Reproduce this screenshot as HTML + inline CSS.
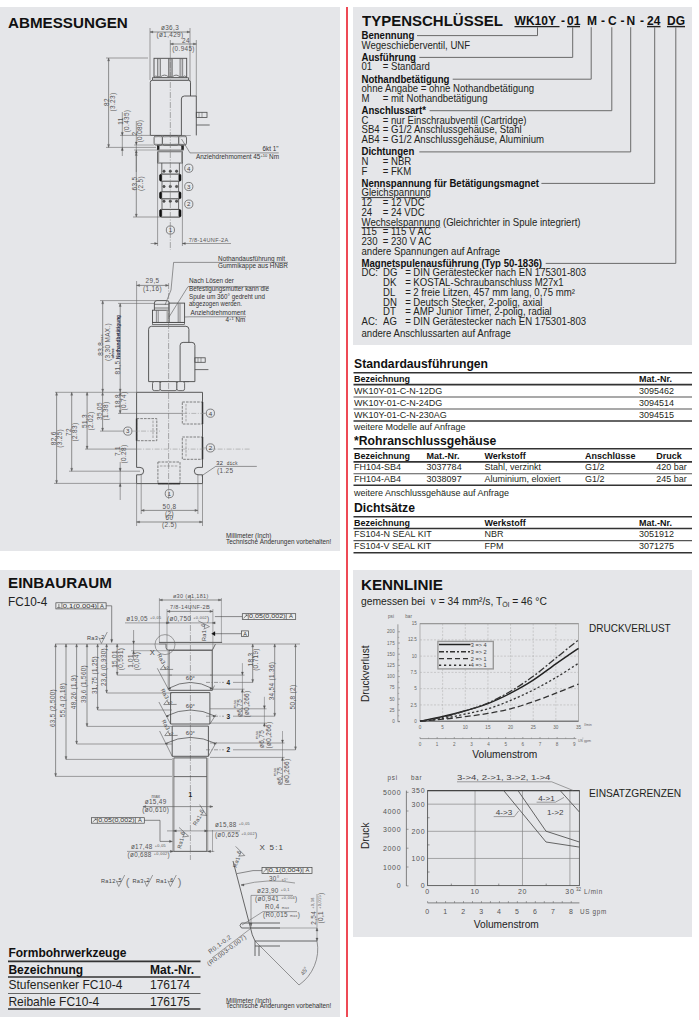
<!DOCTYPE html>
<html><head><meta charset="utf-8"><style>
html,body{margin:0;padding:0;}
body{width:700px;height:1020px;position:relative;overflow:hidden;background:#fff;font-family:"Liberation Sans",sans-serif;color:#231f20;}
.p{position:absolute;background:#e5e6e9;}
u{text-decoration-thickness:0.9px;text-underline-offset:1px;text-decoration-color:#444;}
.t{position:absolute;white-space:nowrap;line-height:1;}
svg{position:absolute;left:0;top:0;}
svg text{font-family:"Liberation Sans",sans-serif;}
svg text.m{font-family:"Liberation Mono",monospace;}
</style></head><body>
<div class="p" style="left:0px;top:7px;width:340px;height:544px"></div><div class="p" style="left:0px;top:570px;width:340px;height:447px"></div><div class="p" style="left:353px;top:7px;width:339px;height:338px"></div><div class="p" style="left:353px;top:570px;width:339px;height:367px"></div>
<div style="position:absolute;left:346px;top:7px;width:1.6px;height:1010px;background:#ee4a55"></div>
<div style="position:absolute;left:699px;top:0;width:1px;height:1020px;background:#f7d0d7"></div>
<svg width="700" height="1020" viewBox="0 0 700 1020">
<line x1="514.5" y1="26.6" x2="559.5" y2="26.6" stroke="#222" stroke-width="1.4" /><line x1="567" y1="26.6" x2="580" y2="26.6" stroke="#222" stroke-width="1.4" /><line x1="647" y1="26.6" x2="660.5" y2="26.6" stroke="#222" stroke-width="1.4" /><line x1="667" y1="26.6" x2="685" y2="26.6" stroke="#222" stroke-width="1.4" /><line x1="417" y1="35.6" x2="537.5" y2="35.6" stroke="#6a6a6a" stroke-width="1" /><line x1="537.5" y1="27.2" x2="537.5" y2="35.6" stroke="#6a6a6a" stroke-width="1" /><line x1="419.3" y1="57.4" x2="572.7" y2="57.4" stroke="#6a6a6a" stroke-width="1" /><line x1="572.7" y1="27.2" x2="572.7" y2="57.4" stroke="#6a6a6a" stroke-width="1" /><line x1="452.7" y1="79.2" x2="591.2" y2="79.2" stroke="#6a6a6a" stroke-width="1" /><line x1="591.2" y1="27.2" x2="591.2" y2="79.2" stroke="#6a6a6a" stroke-width="1" /><line x1="429.6" y1="110.70000000000002" x2="611.8" y2="110.70000000000002" stroke="#6a6a6a" stroke-width="1" /><line x1="611.8" y1="27.2" x2="611.8" y2="110.70000000000002" stroke="#6a6a6a" stroke-width="1" /><line x1="419.3" y1="151.9" x2="630.7" y2="151.9" stroke="#6a6a6a" stroke-width="1" /><line x1="630.7" y1="27.2" x2="630.7" y2="151.9" stroke="#6a6a6a" stroke-width="1" /><line x1="541.4" y1="183.39999999999998" x2="654.7" y2="183.39999999999998" stroke="#6a6a6a" stroke-width="1" /><line x1="654.7" y1="27.2" x2="654.7" y2="183.39999999999998" stroke="#6a6a6a" stroke-width="1" /><line x1="545.7" y1="263.39999999999986" x2="675.8" y2="263.39999999999986" stroke="#6a6a6a" stroke-width="1" /><line x1="675.8" y1="27.2" x2="675.8" y2="263.39999999999986" stroke="#6a6a6a" stroke-width="1" /><line x1="353.5" y1="372.7" x2="692" y2="372.7" stroke="#333" stroke-width="1.6" /><line x1="353.5" y1="384.6" x2="692" y2="384.6" stroke="#333" stroke-width="1.6" /><line x1="353.5" y1="397" x2="692" y2="397" stroke="#555" stroke-width="1.1" /><line x1="353.5" y1="409" x2="692" y2="409" stroke="#555" stroke-width="1.1" /><line x1="353.5" y1="421" x2="692" y2="421" stroke="#333" stroke-width="1.6" /><line x1="353.5" y1="448.8" x2="692" y2="448.8" stroke="#333" stroke-width="1.6" /><line x1="353.5" y1="461.9" x2="692" y2="461.9" stroke="#333" stroke-width="1.6" /><line x1="353.5" y1="473.7" x2="692" y2="473.7" stroke="#555" stroke-width="1.1" /><line x1="353.5" y1="485.3" x2="692" y2="485.3" stroke="#333" stroke-width="1.6" /><line x1="353.5" y1="516.7" x2="692" y2="516.7" stroke="#333" stroke-width="1.6" /><line x1="353.5" y1="528.5" x2="692" y2="528.5" stroke="#333" stroke-width="1.6" /><line x1="353.5" y1="540.6" x2="692" y2="540.6" stroke="#555" stroke-width="1.1" /><line x1="353.5" y1="552.7" x2="692" y2="552.7" stroke="#333" stroke-width="1.6" /><line x1="8" y1="961.4" x2="200.5" y2="961.4" stroke="#333" stroke-width="1.6" /><line x1="8" y1="977" x2="200.5" y2="977" stroke="#333" stroke-width="1.6" /><line x1="8" y1="993.5" x2="200.5" y2="993.5" stroke="#666" stroke-width="1" /><line x1="8" y1="1009" x2="200.5" y2="1009" stroke="#333" stroke-width="1.6" /><line x1="150" y1="28" x2="150" y2="80" stroke="#666" stroke-width="0.6" /><line x1="190" y1="28" x2="190" y2="96" stroke="#666" stroke-width="0.6" /><line x1="196.3" y1="40" x2="196.3" y2="96" stroke="#666" stroke-width="0.6" /><line x1="170.3" y1="40" x2="170.3" y2="52" stroke="#666" stroke-width="0.6" /><line x1="150" y1="32" x2="190" y2="32" stroke="#666" stroke-width="0.7" /><path d="M150,32 L153,30.95 L153,33.05 Z" stroke="#666" stroke-width="0.3" fill="#666" /><path d="M190,32 L187,30.95 L187,33.05 Z" stroke="#666" stroke-width="0.3" fill="#666" /><text x="170" y="30.3" font-size="6.4" text-anchor="middle" fill="#555" font-weight="400" letter-spacing="0.35">ø36,3</text><text x="170" y="37.3" font-size="6.4" text-anchor="middle" fill="#555" font-weight="400" letter-spacing="0.35">(ø1,429)</text><line x1="170.3" y1="44" x2="196.3" y2="44" stroke="#666" stroke-width="0.7" /><path d="M170.3,44 L173.3,42.95 L173.3,45.05 Z" stroke="#666" stroke-width="0.3" fill="#666" /><path d="M196.3,44 L193.3,42.95 L193.3,45.05 Z" stroke="#666" stroke-width="0.3" fill="#666" /><text x="186" y="42.5" font-size="6.4" text-anchor="middle" fill="#555" font-weight="400" letter-spacing="0.35">24</text><text x="183.5" y="50.8" font-size="6.4" text-anchor="middle" fill="#555" font-weight="400" letter-spacing="0.35">(0.945)</text><rect x="154" y="58.3" width="32.7" height="19.5" stroke="#4a4a4a" stroke-width="0.9" fill="none" /><rect x="157.6" y="58.8" width="2.8000000000000114" height="17.8" stroke="#555" stroke-width="0.6" fill="#c4c4c6" /><rect x="168.6" y="58.8" width="3.5999999999999943" height="17.8" stroke="#555" stroke-width="0.6" fill="#a9a9ab" /><rect x="180" y="58.8" width="2.8000000000000114" height="17.8" stroke="#555" stroke-width="0.6" fill="#c4c4c6" /><path d="M154,77.2 Q156,74.8 157.6,77 M160.4,77 Q164.5,73.2 168.6,77 M172.2,77 Q176.1,73.2 180,77 M182.8,77 Q184.8,74.8 186.7,77.2" stroke="#4a4a4a" stroke-width="0.7" fill="none" /><rect x="152.5" y="77.8" width="36" height="2.5" stroke="#4a4a4a" stroke-width="0.8" fill="#e5e6e9" /><path d="M150.3,135.4 L150.3,82.3 Q150.3,80.3 152.3,80.3 L188.5,80.3 Q190.5,80.3 190.5,82.3 L190.5,135.4 Z" stroke="#4a4a4a" stroke-width="0.9" fill="#e5e6e9" /><path d="M181.4,135.4 L181.4,99 Q181.4,96 184.4,96 L196.3,96 L196.3,135.4" stroke="#4a4a4a" stroke-width="0.9" fill="#e5e6e9" /><rect x="196.3" y="112.3" width="10.7" height="5.1" stroke="#4a4a4a" stroke-width="0.8" fill="none" /><line x1="199" y1="112.3" x2="199" y2="117.4" stroke="#4a4a4a" stroke-width="0.5" /><line x1="202" y1="112.3" x2="202" y2="117.4" stroke="#4a4a4a" stroke-width="0.5" /><line x1="196.3" y1="125" x2="209.7" y2="125" stroke="#4a4a4a" stroke-width="0.8" /><line x1="106" y1="58" x2="148" y2="58" stroke="#666" stroke-width="0.6" /><line x1="108.6" y1="58" x2="108.6" y2="147.4" stroke="#666" stroke-width="0.7" /><path d="M108.6,58 L107.55,61 L109.64999999999999,61 Z" stroke="#666" stroke-width="0.3" fill="#666" /><path d="M108.6,147.4 L107.55,144.4 L109.64999999999999,144.4 Z" stroke="#666" stroke-width="0.3" fill="#666" /><line x1="106" y1="147.4" x2="156" y2="147.4" stroke="#666" stroke-width="0.6" /><text x="108.804" y="102" font-size="6.4" text-anchor="middle" fill="#555" font-weight="400" transform="rotate(-90 108.804 102)" letter-spacing="0.35">82</text><text x="114.804" y="102" font-size="6.4" text-anchor="middle" fill="#555" font-weight="400" transform="rotate(-90 114.804 102)" letter-spacing="0.35">(3.23)</text><line x1="120" y1="135.4" x2="150" y2="135.4" stroke="#666" stroke-width="0.6" /><line x1="122.3" y1="112" x2="122.3" y2="156" stroke="#666" stroke-width="0.6" /><path d="M122.3,135.4 L121.25,132.4 L123.35,132.4 Z" stroke="#555" stroke-width="0.3" fill="#555" /><path d="M122.3,147.4 L121.25,150.4 L123.35,150.4 Z" stroke="#555" stroke-width="0.3" fill="#555" /><text x="122.504" y="121" font-size="6.4" text-anchor="middle" fill="#555" font-weight="400" transform="rotate(-90 122.504 121)" letter-spacing="0.35">11</text><text x="128.504" y="121" font-size="6.4" text-anchor="middle" fill="#555" font-weight="400" transform="rotate(-90 128.504 121)" letter-spacing="0.35">(0.435)</text><line x1="136.3" y1="121" x2="136.3" y2="172" stroke="#666" stroke-width="0.6" /><path d="M136.3,145 L135.25,142 L137.35000000000002,142 Z" stroke="#555" stroke-width="0.3" fill="#555" /><path d="M136.3,150 L135.25,153 L137.35000000000002,153 Z" stroke="#555" stroke-width="0.3" fill="#555" /><line x1="134" y1="145" x2="154" y2="145" stroke="#666" stroke-width="0.5" /><line x1="134" y1="150" x2="157" y2="150" stroke="#666" stroke-width="0.5" /><text x="136.504" y="133.5" font-size="6.4" text-anchor="middle" fill="#555" font-weight="400" transform="rotate(-90 136.504 133.5)" letter-spacing="0.35">2</text><text x="142.304" y="131" font-size="6.4" text-anchor="middle" fill="#555" font-weight="400" transform="rotate(-90 142.304 131)" letter-spacing="0.35">(0.080)</text><rect x="154.1" y="135.9" width="8.300000000000011" height="9.2" stroke="#4a4a4a" stroke-width="0.8" fill="#e5e6e9" rx="1.8"/><rect x="162.4" y="135.9" width="16.400000000000006" height="9.2" stroke="#4a4a4a" stroke-width="0.8" fill="#e5e6e9" rx="1.8"/><rect x="178.8" y="135.9" width="7.699999999999989" height="9.2" stroke="#4a4a4a" stroke-width="0.8" fill="#e5e6e9" rx="1.8"/><path d="M155,137 Q158.3,136.3 161.5,137 M163.3,137 Q170.5,136.3 177.8,137 M179.8,137 Q182.8,136.3 185.8,137" stroke="#4a4a4a" stroke-width="0.4" fill="none" /><path d="M155,144 Q158.3,144.8 161.5,144 M163.3,144 Q170.5,144.8 177.8,144 M179.8,144 Q182.8,144.8 185.8,144" stroke="#4a4a4a" stroke-width="0.4" fill="none" /><rect x="157.6" y="145.1" width="25.6" height="5" stroke="#4a4a4a" stroke-width="0.8" fill="none" /><rect x="157.3" y="146" width="1.8" height="3.5" stroke="#222" stroke-width="0.5" fill="#222" /><rect x="181.6" y="146" width="1.8" height="3.5" stroke="#222" stroke-width="0.5" fill="#222" /><rect x="157.6" y="151.8" width="25" height="11.2" stroke="#4a4a4a" stroke-width="0.8" fill="none" /><line x1="158.6" y1="152" x2="158.6" y2="163" stroke="#999" stroke-width="1.2" /><line x1="181.6" y1="152" x2="181.6" y2="163" stroke="#999" stroke-width="1.2" /><line x1="157.6" y1="163" x2="157.6" y2="246" stroke="#666" stroke-width="0.6" /><line x1="182.4" y1="163" x2="182.4" y2="246" stroke="#666" stroke-width="0.6" /><line x1="161.8" y1="163" x2="161.8" y2="174" stroke="#4a4a4a" stroke-width="0.8" /><line x1="179.4" y1="163" x2="179.4" y2="174" stroke="#4a4a4a" stroke-width="0.8" /><rect x="160" y="174.1" width="20.6" height="7.099999999999994" stroke="#444" stroke-width="1.0" fill="#e5e6e9" rx="1.5"/><rect x="159.6" y="174.4" width="2.2" height="6.499999999999995" stroke="#111" stroke-width="0.4" fill="#111" rx="1"/><rect x="178.8" y="174.4" width="2.2" height="6.499999999999995" stroke="#111" stroke-width="0.4" fill="#111" rx="1"/><rect x="160" y="191.8" width="20.6" height="7.0" stroke="#444" stroke-width="1.0" fill="#e5e6e9" rx="1.5"/><rect x="159.6" y="192.10000000000002" width="2.2" height="6.4" stroke="#111" stroke-width="0.4" fill="#111" rx="1"/><rect x="178.8" y="192.10000000000002" width="2.2" height="6.4" stroke="#111" stroke-width="0.4" fill="#111" rx="1"/><rect x="160" y="209.4" width="20.6" height="7.699999999999989" stroke="#444" stroke-width="1.0" fill="#e5e6e9" rx="1.5"/><rect x="159.6" y="209.70000000000002" width="2.2" height="7.099999999999989" stroke="#111" stroke-width="0.4" fill="#111" rx="1"/><rect x="178.8" y="209.70000000000002" width="2.2" height="7.099999999999989" stroke="#111" stroke-width="0.4" fill="#111" rx="1"/><line x1="162" y1="181.2" x2="162" y2="191.8" stroke="#4a4a4a" stroke-width="0.8" /><line x1="178.6" y1="181.2" x2="178.6" y2="191.8" stroke="#4a4a4a" stroke-width="0.8" /><line x1="162" y1="198.8" x2="162" y2="209.4" stroke="#4a4a4a" stroke-width="0.8" /><line x1="178.6" y1="198.8" x2="178.6" y2="209.4" stroke="#4a4a4a" stroke-width="0.8" /><circle cx="164" cy="171.2" r="1.2" stroke="#333" stroke-width="0.5" fill="#555"/><circle cx="170.3" cy="171.2" r="1.2" stroke="#333" stroke-width="0.5" fill="#555"/><circle cx="176.6" cy="171.2" r="1.2" stroke="#333" stroke-width="0.5" fill="#555"/><circle cx="164" cy="186.5" r="1.2" stroke="#333" stroke-width="0.5" fill="#555"/><circle cx="170.3" cy="186.5" r="1.2" stroke="#333" stroke-width="0.5" fill="#555"/><circle cx="176.6" cy="186.5" r="1.2" stroke="#333" stroke-width="0.5" fill="#555"/><circle cx="164" cy="201.2" r="1.2" stroke="#333" stroke-width="0.5" fill="#555"/><circle cx="170.3" cy="201.2" r="1.2" stroke="#333" stroke-width="0.5" fill="#555"/><circle cx="176.6" cy="201.2" r="1.2" stroke="#333" stroke-width="0.5" fill="#555"/><circle cx="188.8" cy="168.2" r="4.1" stroke="#555" stroke-width="0.7" fill="none"/><text x="188.8" y="170.5" font-size="6.2" text-anchor="middle" fill="#444" font-weight="400" >4</text><circle cx="188.8" cy="186.5" r="4.1" stroke="#555" stroke-width="0.7" fill="none"/><text x="188.8" y="188.8" font-size="6.2" text-anchor="middle" fill="#444" font-weight="400" >3</text><circle cx="188.8" cy="204.1" r="4.1" stroke="#555" stroke-width="0.7" fill="none"/><text x="188.8" y="206.4" font-size="6.2" text-anchor="middle" fill="#444" font-weight="400" >2</text><circle cx="170.4" cy="230" r="4.1" stroke="#555" stroke-width="0.7" fill="none"/><text x="170.4" y="232.3" font-size="6.2" text-anchor="middle" fill="#444" font-weight="400" >1</text><line x1="133" y1="217" x2="160" y2="217" stroke="#666" stroke-width="0.6" /><line x1="136.3" y1="152.5" x2="136.3" y2="217" stroke="#666" stroke-width="0.7" /><path d="M136.3,152.5 L135.25,155.5 L137.35000000000002,155.5 Z" stroke="#666" stroke-width="0.3" fill="#666" /><path d="M136.3,217 L135.25,214 L137.35000000000002,214 Z" stroke="#666" stroke-width="0.3" fill="#666" /><text x="136.804" y="183.5" font-size="6.4" text-anchor="middle" fill="#555" font-weight="400" transform="rotate(-90 136.804 183.5)" letter-spacing="0.35">63,5</text><text x="142.504" y="183.5" font-size="6.4" text-anchor="middle" fill="#555" font-weight="400" transform="rotate(-90 142.504 183.5)" letter-spacing="0.35">(2.5)</text><line x1="150.6" y1="243.5" x2="157.6" y2="243.5" stroke="#666" stroke-width="0.6" /><path d="M157.6,243.5 L154.6,242.45 L154.6,244.55 Z" stroke="#555" stroke-width="0.3" fill="#555" /><line x1="182.4" y1="243.5" x2="231" y2="243.5" stroke="#666" stroke-width="0.6" /><path d="M182.4,243.5 L185.4,242.45 L185.4,244.55 Z" stroke="#555" stroke-width="0.3" fill="#555" /><text x="188.7" y="241.6" font-size="6" text-anchor="start" fill="#555" font-weight="400" textLength="39.9" lengthAdjust="spacingAndGlyphs" letter-spacing="0.35">7/8-14UNF-2A</text><line x1="181.5" y1="139" x2="190" y2="152.9" stroke="#555" stroke-width="0.6" /><line x1="190" y1="152.9" x2="278.7" y2="152.9" stroke="#555" stroke-width="0.6" /><text x="278.5" y="151" font-size="6.6" text-anchor="end" fill="#333" font-weight="400" textLength="16" lengthAdjust="spacingAndGlyphs" >6kt 1"</text><line x1="170.3" y1="52" x2="170.3" y2="250" stroke="#777" stroke-width="0.6" stroke-dasharray="6,1.5,1,1.5"/><text x="196" y="158.6" font-size="6.4" text-anchor="start" fill="#333" font-weight="400" textLength="83" lengthAdjust="spacingAndGlyphs" >Anziehdrehmoment 45<tspan font-size="4" dy="-2">+10</tspan><tspan dy="2"> Nm</tspan></text><line x1="136.6" y1="281" x2="136.6" y2="392" stroke="#666" stroke-width="0.6" /><line x1="136.6" y1="285.4" x2="168.6" y2="285.4" stroke="#666" stroke-width="0.7" /><path d="M136.6,285.4 L139.6,284.34999999999997 L139.6,286.45 Z" stroke="#666" stroke-width="0.3" fill="#666" /><path d="M168.6,285.4 L165.6,284.34999999999997 L165.6,286.45 Z" stroke="#666" stroke-width="0.3" fill="#666" /><text x="152.5" y="283.2" font-size="6.4" text-anchor="middle" fill="#555" font-weight="400" letter-spacing="0.35">29,5</text><text x="152.5" y="290.6" font-size="6.4" text-anchor="middle" fill="#555" font-weight="400" letter-spacing="0.35">(1,16)</text><line x1="100" y1="300.6" x2="157" y2="300.6" stroke="#666" stroke-width="0.6" /><line x1="118" y1="303.4" x2="154.4" y2="303.4" stroke="#666" stroke-width="0.6" /><line x1="102.7" y1="300.8" x2="102.7" y2="392" stroke="#666" stroke-width="0.7" /><path d="M102.7,300.8 L101.65,303.8 L103.75,303.8 Z" stroke="#666" stroke-width="0.3" fill="#666" /><path d="M102.7,392 L101.65,389 L103.75,389 Z" stroke="#666" stroke-width="0.3" fill="#666" /><line x1="120.2" y1="303.5" x2="120.2" y2="392" stroke="#666" stroke-width="0.7" /><path d="M120.2,303.5 L119.15,306.5 L121.25,306.5 Z" stroke="#666" stroke-width="0.3" fill="#666" /><path d="M120.2,392 L119.15,389 L121.25,389 Z" stroke="#666" stroke-width="0.3" fill="#666" /><text x="102.904" y="345" font-size="6.4" text-anchor="middle" fill="#555" font-weight="400" transform="rotate(-90 102.904 345)" letter-spacing="0.35">83,8<tspan font-size="3.5">max</tspan></text><text x="109.904" y="342" font-size="6.4" text-anchor="middle" fill="#555" font-weight="400" transform="rotate(-90 109.904 342)" letter-spacing="0.35">(3,30 MAX.)</text><text x="114.4" y="353.5" font-size="3.8" text-anchor="middle" fill="#2a2a2a" font-weight="700" transform="rotate(-90 114.4 353.5)" textLength="10" lengthAdjust="spacingAndGlyphs" >ohne</text><text x="119.6" y="337" font-size="5" text-anchor="middle" fill="#1f2a44" font-weight="700" transform="rotate(-90 119.6 337)" textLength="44" lengthAdjust="spacingAndGlyphs" >Nothandbetätigung</text><text x="119.904" y="367.5" font-size="6.4" text-anchor="middle" fill="#555" font-weight="400" transform="rotate(-90 119.904 367.5)" letter-spacing="0.35">81,5</text><path d="M154.4,310.2 L154.4,303 Q154.4,300.6 157,300.6 L166.6,300.6 Q169.2,300.6 169.2,303 L169.2,310.2" stroke="#4a4a4a" stroke-width="0.9" fill="#e5e6e9" /><line x1="154.4" y1="304.3" x2="169.2" y2="304.3" stroke="#4a4a4a" stroke-width="0.7" /><line x1="154.4" y1="308" x2="169.2" y2="308" stroke="#4a4a4a" stroke-width="0.7" /><rect x="152.5" y="310.2" width="16.6" height="12.2" stroke="#4a4a4a" stroke-width="0.9" fill="#e5e6e9" /><rect x="169.1" y="303.1" width="15.5" height="19.3" stroke="#4a4a4a" stroke-width="0.9" fill="#e5e6e9" /><line x1="156.4" y1="310.5" x2="156.4" y2="322" stroke="#4a4a4a" stroke-width="0.6" /><line x1="158.2" y1="310.5" x2="158.2" y2="322" stroke="#4a4a4a" stroke-width="0.6" /><line x1="178.2" y1="303.5" x2="178.2" y2="322" stroke="#4a4a4a" stroke-width="0.6" /><line x1="180" y1="303.5" x2="180" y2="322" stroke="#4a4a4a" stroke-width="0.6" /><rect x="166.8" y="310.5" width="2" height="11.5" stroke="#999" stroke-width="0.3" fill="#aaa" /><rect x="152.5" y="322.4" width="32.1" height="2.2" stroke="#4a4a4a" stroke-width="0.7" fill="none" /><path d="M148.6,381.6 L148.6,329.3 Q148.6,326.3 151.6,326.3 L185.9,326.3 Q188.9,326.3 188.9,329.3 L188.9,381.6 Z" stroke="#4a4a4a" stroke-width="0.9" fill="#e5e6e9" /><path d="M180.1,381.6 L180.1,345.4 Q180.1,342.4 183.1,342.4 L191.9,342.4 Q194.9,342.4 194.9,345.4 L194.9,381.6 Z" stroke="#4a4a4a" stroke-width="0.9" fill="#e5e6e9" /><rect x="194.9" y="357.8" width="10.3" height="4.5" stroke="#4a4a4a" stroke-width="0.8" fill="none" /><line x1="198" y1="357.8" x2="198" y2="362.3" stroke="#4a4a4a" stroke-width="0.5" /><line x1="201" y1="357.8" x2="201" y2="362.3" stroke="#4a4a4a" stroke-width="0.5" /><line x1="194.9" y1="369.6" x2="208.4" y2="369.6" stroke="#4a4a4a" stroke-width="0.8" /><rect x="152.5" y="381.6" width="7.699999999999989" height="9" stroke="#4a4a4a" stroke-width="0.8" fill="#e5e6e9" rx="1.8"/><rect x="160.2" y="381.6" width="16.700000000000017" height="9" stroke="#4a4a4a" stroke-width="0.8" fill="#e5e6e9" rx="1.8"/><rect x="176.9" y="381.6" width="7.699999999999989" height="9" stroke="#4a4a4a" stroke-width="0.8" fill="#e5e6e9" rx="1.8"/><line x1="55" y1="392.3" x2="136.6" y2="392.3" stroke="#666" stroke-width="0.6" /><path d="M136.6,392.3 L202.5,392.3 L202.5,467.4 L198,467.4 A3.7,3.7 0 0 0 198,474.8 L202.5,474.8 L202.5,483.6 L136.6,483.6 L136.6,474.8 L140,474.8 A3.7,3.7 0 0 0 140,467.4 L136.6,467.4 Z" stroke="#4a4a4a" stroke-width="0.9" fill="none" /><rect x="182.3" y="402" width="20.2" height="22" stroke="#666" stroke-width="0.8" fill="none" stroke-dasharray="2.6,1.1"/><line x1="186" y1="404" x2="186" y2="422" stroke="#777" stroke-width="0.6" stroke-dasharray="2.6,1.1"/><rect x="182.3" y="437" width="20.2" height="22.3" stroke="#666" stroke-width="0.8" fill="none" stroke-dasharray="2.6,1.1"/><line x1="186" y1="439" x2="186" y2="457" stroke="#777" stroke-width="0.6" stroke-dasharray="2.6,1.1"/><rect x="136.6" y="418.6" width="20.2" height="22.1" stroke="#666" stroke-width="0.8" fill="none" stroke-dasharray="2.6,1.1"/><line x1="153" y1="420.6" x2="153" y2="438.7" stroke="#777" stroke-width="0.6" stroke-dasharray="2.6,1.1"/><rect x="157.9" y="462" width="22.1" height="21.6" stroke="#666" stroke-width="0.8" fill="none" stroke-dasharray="2.6,1.1"/><line x1="159.9" y1="466" x2="178" y2="466" stroke="#777" stroke-width="0.6" stroke-dasharray="2.6,1.1"/><line x1="202.5" y1="402" x2="202.5" y2="424" stroke="#333" stroke-width="1.5" /><line x1="202.5" y1="437" x2="202.5" y2="459.3" stroke="#333" stroke-width="1.5" /><line x1="136.6" y1="418.6" x2="136.6" y2="440.7" stroke="#333" stroke-width="1.5" /><line x1="157.9" y1="483.6" x2="180" y2="483.6" stroke="#333" stroke-width="1.5" /><line x1="56.6" y1="392.3" x2="56.6" y2="483.4" stroke="#666" stroke-width="0.7" /><path d="M56.6,392.3 L55.550000000000004,395.3 L57.65,395.3 Z" stroke="#666" stroke-width="0.3" fill="#666" /><path d="M56.6,483.4 L55.550000000000004,480.4 L57.65,480.4 Z" stroke="#666" stroke-width="0.3" fill="#666" /><line x1="54" y1="483.4" x2="136.6" y2="483.4" stroke="#666" stroke-width="0.6" /><line x1="71.7" y1="392.3" x2="71.7" y2="471.2" stroke="#666" stroke-width="0.7" /><path d="M71.7,392.3 L70.65,395.3 L72.75,395.3 Z" stroke="#666" stroke-width="0.3" fill="#666" /><path d="M71.7,471.2 L70.65,468.2 L72.75,468.2 Z" stroke="#666" stroke-width="0.3" fill="#666" /><line x1="69" y1="471.2" x2="140" y2="471.2" stroke="#666" stroke-width="0.6" /><line x1="87.1" y1="392.3" x2="87.1" y2="449.1" stroke="#666" stroke-width="0.7" /><path d="M87.1,392.3 L86.05,395.3 L88.14999999999999,395.3 Z" stroke="#666" stroke-width="0.3" fill="#666" /><path d="M87.1,449.1 L86.05,446.1 L88.14999999999999,446.1 Z" stroke="#666" stroke-width="0.3" fill="#666" /><line x1="85" y1="449.1" x2="136.6" y2="449.1" stroke="#666" stroke-width="0.6" /><line x1="136.6" y1="449.1" x2="250" y2="449.1" stroke="#888" stroke-width="0.5" stroke-dasharray="5,1.5,1,1.5"/><line x1="102.6" y1="392.3" x2="102.6" y2="431.1" stroke="#666" stroke-width="0.7" /><path d="M102.6,392.3 L101.55,395.3 L103.64999999999999,395.3 Z" stroke="#666" stroke-width="0.3" fill="#666" /><path d="M102.6,431.1 L101.55,428.1 L103.64999999999999,428.1 Z" stroke="#666" stroke-width="0.3" fill="#666" /><line x1="100" y1="431.1" x2="123.5" y2="431.1" stroke="#666" stroke-width="0.6" /><line x1="132" y1="431.1" x2="160" y2="431.1" stroke="#888" stroke-width="0.5" stroke-dasharray="5,1.5,1,1.5"/><line x1="120.2" y1="392.3" x2="120.2" y2="413.4" stroke="#666" stroke-width="0.7" /><path d="M120.2,392.3 L119.15,395.3 L121.25,395.3 Z" stroke="#666" stroke-width="0.3" fill="#666" /><path d="M120.2,413.4 L119.15,410.4 L121.25,410.4 Z" stroke="#666" stroke-width="0.3" fill="#666" /><line x1="118" y1="413.4" x2="182.3" y2="413.4" stroke="#666" stroke-width="0.6" /><line x1="182.3" y1="413.4" x2="206" y2="413.4" stroke="#888" stroke-width="0.5" stroke-dasharray="5,1.5,1,1.5"/><line x1="120.2" y1="462" x2="120.2" y2="500" stroke="#666" stroke-width="0.6" /><path d="M120.2,471.2 L119.15,468.2 L121.25,468.2 Z" stroke="#555" stroke-width="0.3" fill="#555" /><path d="M120.2,483.4 L119.15,486.4 L121.25,486.4 Z" stroke="#555" stroke-width="0.3" fill="#555" /><text x="56.104" y="438.3" font-size="6.4" text-anchor="middle" fill="#555" font-weight="400" transform="rotate(-90 56.104 438.3)" letter-spacing="0.35">82,6</text><text x="62.104" y="438.3" font-size="6.4" text-anchor="middle" fill="#555" font-weight="400" transform="rotate(-90 62.104 438.3)" letter-spacing="0.35">(3.25)</text><text x="71.104" y="432" font-size="6.4" text-anchor="middle" fill="#555" font-weight="400" transform="rotate(-90 71.104 432)" letter-spacing="0.35">72</text><text x="77.104" y="432" font-size="6.4" text-anchor="middle" fill="#555" font-weight="400" transform="rotate(-90 77.104 432)" letter-spacing="0.35">(2.83)</text><text x="86.504" y="421" font-size="6.4" text-anchor="middle" fill="#555" font-weight="400" transform="rotate(-90 86.504 421)" letter-spacing="0.35">51,3</text><text x="92.504" y="421" font-size="6.4" text-anchor="middle" fill="#555" font-weight="400" transform="rotate(-90 92.504 421)" letter-spacing="0.35">(2.02)</text><text x="102.104" y="411" font-size="6.4" text-anchor="middle" fill="#555" font-weight="400" transform="rotate(-90 102.104 411)" letter-spacing="0.35">35,05</text><text x="108.104" y="411" font-size="6.4" text-anchor="middle" fill="#555" font-weight="400" transform="rotate(-90 108.104 411)" letter-spacing="0.35">(1.38)</text><text x="119.70400000000001" y="401" font-size="6.4" text-anchor="middle" fill="#555" font-weight="400" transform="rotate(-90 119.70400000000001 401)" letter-spacing="0.35">18,8</text><text x="125.70400000000001" y="401" font-size="6.4" text-anchor="middle" fill="#555" font-weight="400" transform="rotate(-90 125.70400000000001 401)" letter-spacing="0.35">(0.74)</text><text x="119.70400000000001" y="451" font-size="6.4" text-anchor="middle" fill="#555" font-weight="400" transform="rotate(-90 119.70400000000001 451)" letter-spacing="0.35">7,1</text><text x="125.70400000000001" y="454" font-size="6.4" text-anchor="middle" fill="#555" font-weight="400" transform="rotate(-90 125.70400000000001 454)" letter-spacing="0.35">(0.28)</text><circle cx="210.4" cy="413.2" r="4.1" stroke="#555" stroke-width="0.7" fill="none"/><text x="210.4" y="415.5" font-size="6.2" text-anchor="middle" fill="#444" font-weight="400" >4</text><circle cx="127.8" cy="431.1" r="4.1" stroke="#555" stroke-width="0.7" fill="none"/><text x="127.8" y="433.40000000000003" font-size="6.2" text-anchor="middle" fill="#444" font-weight="400" >3</text><circle cx="210.4" cy="447.9" r="4.1" stroke="#555" stroke-width="0.7" fill="none"/><text x="210.4" y="450.2" font-size="6.2" text-anchor="middle" fill="#444" font-weight="400" >2</text><circle cx="169.3" cy="493.6" r="4.1" stroke="#555" stroke-width="0.7" fill="none"/><text x="169.3" y="495.90000000000003" font-size="6.2" text-anchor="middle" fill="#444" font-weight="400" >1</text><line x1="202.5" y1="413.3" x2="206" y2="413.3" stroke="#888" stroke-width="0.5" /><line x1="202.5" y1="447.9" x2="206" y2="447.9" stroke="#888" stroke-width="0.5" /><line x1="136.6" y1="483.6" x2="136.6" y2="526" stroke="#666" stroke-width="0.6" /><line x1="202.5" y1="483.6" x2="202.5" y2="526" stroke="#666" stroke-width="0.6" /><line x1="141.2" y1="474" x2="141.2" y2="514" stroke="#666" stroke-width="0.6" /><line x1="197.9" y1="474" x2="197.9" y2="514" stroke="#666" stroke-width="0.6" /><line x1="141.2" y1="510.4" x2="197.9" y2="510.4" stroke="#666" stroke-width="0.7" /><path d="M141.2,510.4 L144.2,509.34999999999997 L144.2,511.45 Z" stroke="#666" stroke-width="0.3" fill="#666" /><path d="M197.9,510.4 L194.9,509.34999999999997 L194.9,511.45 Z" stroke="#666" stroke-width="0.3" fill="#666" /><text x="169.5" y="508.6" font-size="6.4" text-anchor="middle" fill="#555" font-weight="400" letter-spacing="0.35">50,8</text><text x="169.5" y="515.6" font-size="6.4" text-anchor="middle" fill="#555" font-weight="400" letter-spacing="0.35">(2)</text><line x1="136.6" y1="522" x2="202.5" y2="522" stroke="#666" stroke-width="0.7" /><path d="M136.6,522 L139.6,520.95 L139.6,523.05 Z" stroke="#666" stroke-width="0.3" fill="#666" /><path d="M202.5,522 L199.5,520.95 L199.5,523.05 Z" stroke="#666" stroke-width="0.3" fill="#666" /><text x="169.5" y="520.3" font-size="6.4" text-anchor="middle" fill="#555" font-weight="400" letter-spacing="0.35">60</text><text x="169.5" y="527.4" font-size="6.4" text-anchor="middle" fill="#555" font-weight="400" letter-spacing="0.35">(2.5)</text><line x1="201.4" y1="476" x2="215.7" y2="466.4" stroke="#555" stroke-width="0.6" /><line x1="215.7" y1="466.4" x2="256.8" y2="466.4" stroke="#555" stroke-width="0.6" /><text x="216" y="465" font-size="6" text-anchor="start" fill="#444" font-weight="400" class="m" >32 <tspan font-size="4.6">dick</tspan></text><text x="217" y="472.5" font-size="6.4" text-anchor="start" fill="#555" font-weight="400" letter-spacing="0.35">(1.25</text><line x1="173.6" y1="262.4" x2="288" y2="262.4" stroke="#555" stroke-width="0.6" /><path d="M173.6,262.4 L171,290 L165,305" stroke="#555" stroke-width="0.6" fill="none" /><text x="218" y="261" font-size="6.3" text-anchor="start" fill="#333" font-weight="400" textLength="67" lengthAdjust="spacingAndGlyphs" >Nothandausführung mit</text><text x="218" y="268.4" font-size="6.3" text-anchor="start" fill="#333" font-weight="400" textLength="70" lengthAdjust="spacingAndGlyphs" >Gummikappe aus HNBR</text><line x1="188" y1="286.6" x2="269" y2="286.6" stroke="#555" stroke-width="0.6" /><line x1="188" y1="286.6" x2="169" y2="317" stroke="#555" stroke-width="0.6" /><text x="189" y="283" font-size="6.3" text-anchor="start" fill="#333" font-weight="400" textLength="45" lengthAdjust="spacingAndGlyphs" >Nach Lösen der</text><text x="189" y="291" font-size="6.3" text-anchor="start" fill="#333" font-weight="400" textLength="80" lengthAdjust="spacingAndGlyphs" >Befestigungsmutter kann die</text><text x="189" y="299" font-size="6.3" text-anchor="start" fill="#333" font-weight="400" textLength="76" lengthAdjust="spacingAndGlyphs" >Spule um 360° gedreht und</text><text x="189" y="306" font-size="6.3" text-anchor="start" fill="#333" font-weight="400" textLength="53" lengthAdjust="spacingAndGlyphs" >abgezogen werden.</text><text x="190.5" y="315" font-size="6.3" text-anchor="start" fill="#333" font-weight="400" textLength="55" lengthAdjust="spacingAndGlyphs" >Anziehdrehmoment</text><line x1="190" y1="316.8" x2="246" y2="316.8" stroke="#555" stroke-width="0.6" /><line x1="185" y1="317" x2="190" y2="316.8" stroke="#555" stroke-width="0.6" /><text x="225.6" y="322.2" font-size="6.3" text-anchor="start" fill="#333" font-weight="400" >4<tspan font-size="4" dy="-2">+1</tspan><tspan dy="2"> Nm</tspan></text><line x1="168.6" y1="283" x2="168.6" y2="500" stroke="#777" stroke-width="0.6" stroke-dasharray="6,1.5,1,1.5"/><text x="226" y="537.9" font-size="7" text-anchor="start" fill="#333" font-weight="400" textLength="45.4" lengthAdjust="spacingAndGlyphs" >Millimeter (Inch)</text><text x="226" y="543.5" font-size="7" text-anchor="start" fill="#333" font-weight="400" textLength="105.4" lengthAdjust="spacingAndGlyphs" >Technische Änderungen vorbehalten!</text><line x1="190.4" y1="595" x2="190.4" y2="860" stroke="#777" stroke-width="0.6" stroke-dasharray="6,1.5,1,1.5"/><line x1="55" y1="644" x2="166" y2="644" stroke="#666" stroke-width="0.6" /><line x1="159" y1="642.4" x2="222.1" y2="642.4" stroke="#4a4a4a" stroke-width="0.9" /><line x1="222.1" y1="644" x2="300" y2="644" stroke="#666" stroke-width="0.6" /><line x1="159" y1="644" x2="222.1" y2="644" stroke="#666" stroke-width="0.5" /><path d="M166,644.2 L166,647.5 Q166,650.2 169,650.2 L212.3,650.2 L215.4,644.2" stroke="#4a4a4a" stroke-width="0.8" fill="none" /><line x1="169" y1="650.2" x2="212.3" y2="650.2" stroke="#4a4a4a" stroke-width="0.7" /><line x1="169" y1="650.2" x2="169" y2="690.3" stroke="#4a4a4a" stroke-width="0.9" /><line x1="212.3" y1="650.2" x2="212.3" y2="690.3" stroke="#4a4a4a" stroke-width="0.9" /><line x1="170.6" y1="692.6" x2="170.6" y2="724" stroke="#4a4a4a" stroke-width="0.9" /><line x1="209.9" y1="692.6" x2="209.9" y2="724" stroke="#4a4a4a" stroke-width="0.9" /><line x1="172.2" y1="726.1" x2="172.2" y2="756.3" stroke="#4a4a4a" stroke-width="0.9" /><line x1="208.4" y1="726.1" x2="208.4" y2="756.3" stroke="#4a4a4a" stroke-width="0.9" /><line x1="173.8" y1="757.9" x2="173.8" y2="851.4" stroke="#4a4a4a" stroke-width="0.9" /><line x1="206.8" y1="757.9" x2="206.8" y2="851.4" stroke="#4a4a4a" stroke-width="0.9" /><line x1="169" y1="690.3" x2="212.3" y2="690.3" stroke="#4a4a4a" stroke-width="0.9" /><line x1="170.6" y1="692.6" x2="209.9" y2="692.6" stroke="#4a4a4a" stroke-width="0.9" /><line x1="170.6" y1="724" x2="209.9" y2="724" stroke="#4a4a4a" stroke-width="0.9" /><line x1="172.2" y1="726.1" x2="208.4" y2="726.1" stroke="#4a4a4a" stroke-width="0.9" /><line x1="172.2" y1="756.3" x2="208.4" y2="756.3" stroke="#4a4a4a" stroke-width="0.9" /><line x1="173.8" y1="757.9" x2="206.8" y2="757.9" stroke="#4a4a4a" stroke-width="0.9" /><rect x="167.6" y="651" width="1.4" height="39" stroke="#aaa" stroke-width="0" fill="#aaa" /><rect x="210.9" y="651" width="1.2" height="39" stroke="#bbb" stroke-width="0" fill="#bbb" /><rect x="172.2" y="758" width="1.5" height="93" stroke="#aaa" stroke-width="0" fill="#aaa" /><rect x="206.8" y="758" width="1.5" height="93" stroke="#aaa" stroke-width="0" fill="#aaa" /><line x1="173.8" y1="776.6" x2="206.8" y2="776.6" stroke="#4a4a4a" stroke-width="0.8" /><line x1="169" y1="675.1" x2="212.3" y2="675.1" stroke="#666" stroke-width="0.6" /><line x1="173.8" y1="851.4" x2="206.8" y2="851.4" stroke="#4a4a4a" stroke-width="0.8" /><path d="M168.3,688.5 Q190.4,676.3 212.3,688.5" stroke="#444" stroke-width="0.7" fill="none" /><path d="M168.3,688.5 L170.5,687.73 L170.5,689.27 Z" stroke="#444" stroke-width="0.3" fill="#444" /><path d="M212.3,688.5 L210.10000000000002,687.73 L210.10000000000002,689.27 Z" stroke="#444" stroke-width="0.3" fill="#444" /><text x="190.4" y="680.1999999999999" font-size="6" text-anchor="middle" fill="#444" font-weight="400" >60°</text><path d="M166,716.2 Q190.4,703.8 215.4,716.2" stroke="#444" stroke-width="0.7" fill="none" /><path d="M166,716.2 L168.2,715.4300000000001 L168.2,716.97 Z" stroke="#444" stroke-width="0.3" fill="#444" /><path d="M215.4,716.2 L213.20000000000002,715.4300000000001 L213.20000000000002,716.97 Z" stroke="#444" stroke-width="0.3" fill="#444" /><text x="190.4" y="707.8" font-size="6" text-anchor="middle" fill="#444" font-weight="400" >60°</text><path d="M165.1,743.7 Q190.4,731.0999999999999 216.2,743.7" stroke="#444" stroke-width="0.7" fill="none" /><path d="M165.1,743.7 L167.29999999999998,742.9300000000001 L167.29999999999998,744.47 Z" stroke="#444" stroke-width="0.3" fill="#444" /><path d="M216.2,743.7 L214.0,742.9300000000001 L214.0,744.47 Z" stroke="#444" stroke-width="0.3" fill="#444" /><text x="190.4" y="735.1999999999999" font-size="6" text-anchor="middle" fill="#444" font-weight="400" >60°</text><line x1="157.3" y1="668.3" x2="169" y2="690.3" stroke="#555" stroke-width="0.6" /><line x1="158.9" y1="702" x2="170.6" y2="724" stroke="#555" stroke-width="0.6" /><line x1="159.6" y1="731" x2="172.2" y2="756.3" stroke="#555" stroke-width="0.6" /><line x1="212.3" y1="690.3" x2="214.5" y2="685.5" stroke="#555" stroke-width="0.6" /><line x1="209.9" y1="724" x2="216" y2="714.5" stroke="#555" stroke-width="0.6" /><line x1="208.4" y1="756.3" x2="216.5" y2="742" stroke="#555" stroke-width="0.6" /><line x1="206" y1="682.4" x2="224" y2="682.4" stroke="#666" stroke-width="0.6" stroke-dasharray="4,1.5,1,1.5"/><text x="228.4" y="684.6999999999999" font-size="6.5" text-anchor="middle" fill="#222" font-weight="700" >4</text><line x1="206" y1="716.2" x2="224" y2="716.2" stroke="#666" stroke-width="0.6" stroke-dasharray="4,1.5,1,1.5"/><text x="228.4" y="718.5" font-size="6.5" text-anchor="middle" fill="#222" font-weight="700" >3</text><line x1="206" y1="749.8" x2="224" y2="749.8" stroke="#666" stroke-width="0.6" stroke-dasharray="4,1.5,1,1.5"/><text x="228.4" y="752.0999999999999" font-size="6.5" text-anchor="middle" fill="#222" font-weight="700" >2</text><line x1="233" y1="682.4" x2="252.7" y2="682.4" stroke="#666" stroke-width="0.6" /><line x1="233" y1="716.2" x2="274.7" y2="716.2" stroke="#666" stroke-width="0.6" /><line x1="233" y1="749.8" x2="295.5" y2="749.8" stroke="#666" stroke-width="0.6" /><line x1="55.6" y1="776.4" x2="172" y2="776.4" stroke="#666" stroke-width="0.6" /><line x1="55.6" y1="644" x2="55.6" y2="776.4" stroke="#666" stroke-width="0.7" /><path d="M55.6,644 L54.550000000000004,647 L56.65,647 Z" stroke="#666" stroke-width="0.3" fill="#666" /><path d="M55.6,776.4 L54.550000000000004,773.4 L56.65,773.4 Z" stroke="#666" stroke-width="0.3" fill="#666" /><line x1="66" y1="759.4" x2="172" y2="759.4" stroke="#666" stroke-width="0.6" /><line x1="66" y1="644" x2="66" y2="759.4" stroke="#666" stroke-width="0.7" /><path d="M66,644 L64.95,647 L67.05,647 Z" stroke="#666" stroke-width="0.3" fill="#666" /><path d="M66,759.4 L64.95,756.4 L67.05,756.4 Z" stroke="#666" stroke-width="0.3" fill="#666" /><line x1="76.6" y1="744" x2="172" y2="744" stroke="#666" stroke-width="0.6" /><line x1="76.6" y1="644" x2="76.6" y2="744" stroke="#666" stroke-width="0.7" /><path d="M76.6,644 L75.55,647 L77.64999999999999,647 Z" stroke="#666" stroke-width="0.3" fill="#666" /><path d="M76.6,744 L75.55,741 L77.64999999999999,741 Z" stroke="#666" stroke-width="0.3" fill="#666" /><line x1="87" y1="726.4" x2="172" y2="726.4" stroke="#666" stroke-width="0.6" /><line x1="87" y1="644" x2="87" y2="726.4" stroke="#666" stroke-width="0.7" /><path d="M87,644 L85.95,647 L88.05,647 Z" stroke="#666" stroke-width="0.3" fill="#666" /><path d="M87,726.4 L85.95,723.4 L88.05,723.4 Z" stroke="#666" stroke-width="0.3" fill="#666" /><line x1="97.6" y1="710" x2="172" y2="710" stroke="#666" stroke-width="0.6" /><line x1="97.6" y1="644" x2="97.6" y2="710" stroke="#666" stroke-width="0.7" /><path d="M97.6,644 L96.55,647 L98.64999999999999,647 Z" stroke="#666" stroke-width="0.3" fill="#666" /><path d="M97.6,710 L96.55,707 L98.64999999999999,707 Z" stroke="#666" stroke-width="0.3" fill="#666" /><line x1="106.6" y1="693" x2="172" y2="693" stroke="#666" stroke-width="0.6" /><line x1="106.6" y1="644" x2="106.6" y2="693" stroke="#666" stroke-width="0.7" /><path d="M106.6,644 L105.55,647 L107.64999999999999,647 Z" stroke="#666" stroke-width="0.3" fill="#666" /><path d="M106.6,693 L105.55,690 L107.64999999999999,690 Z" stroke="#666" stroke-width="0.3" fill="#666" /><line x1="117.2" y1="675.1" x2="172" y2="675.1" stroke="#666" stroke-width="0.6" /><line x1="117.2" y1="644" x2="117.2" y2="675.1" stroke="#666" stroke-width="0.7" /><path d="M117.2,644 L116.15,647 L118.25,647 Z" stroke="#666" stroke-width="0.3" fill="#666" /><path d="M117.2,675.1 L116.15,672.1 L118.25,672.1 Z" stroke="#666" stroke-width="0.3" fill="#666" /><line x1="210" y1="675.1" x2="244.5" y2="675.1" stroke="#666" stroke-width="0.6" /><line x1="210" y1="689.2" x2="244.5" y2="689.2" stroke="#666" stroke-width="0.6" /><line x1="210" y1="708.8" x2="266.5" y2="708.8" stroke="#666" stroke-width="0.6" /><line x1="210" y1="723.1" x2="266.5" y2="723.1" stroke="#666" stroke-width="0.6" /><line x1="210" y1="743" x2="284.5" y2="743" stroke="#666" stroke-width="0.6" /><line x1="210" y1="757.4" x2="284.5" y2="757.4" stroke="#666" stroke-width="0.6" /><line x1="133.6" y1="630" x2="133.6" y2="660" stroke="#666" stroke-width="0.6" /><path d="M133.6,644 L132.54999999999998,641 L134.65,641 Z" stroke="#555" stroke-width="0.3" fill="#555" /><path d="M133.6,650.7 L132.54999999999998,653.7 L134.65,653.7 Z" stroke="#555" stroke-width="0.3" fill="#555" /><line x1="131" y1="650.7" x2="168" y2="650.7" stroke="#666" stroke-width="0.5" /><text x="55.0" y="708" font-size="6.3" text-anchor="middle" fill="#555" font-weight="400" transform="rotate(-90 55.0 708)" letter-spacing="0.35">63,5 (2,500)</text><text x="65.4" y="700" font-size="6.3" text-anchor="middle" fill="#555" font-weight="400" transform="rotate(-90 65.4 700)" letter-spacing="0.35">55,4 (2,18)</text><text x="76.0" y="692" font-size="6.3" text-anchor="middle" fill="#555" font-weight="400" transform="rotate(-90 76.0 692)" letter-spacing="0.35">48,26 (1,9)</text><text x="86.4" y="684" font-size="6.3" text-anchor="middle" fill="#555" font-weight="400" transform="rotate(-90 86.4 684)" letter-spacing="0.35">39,6 (1,560)</text><text x="97.0" y="675" font-size="6.3" text-anchor="middle" fill="#555" font-weight="400" transform="rotate(-90 97.0 675)" letter-spacing="0.35">31,75 (1,25)</text><text x="106.0" y="667" font-size="6.3" text-anchor="middle" fill="#555" font-weight="400" transform="rotate(-90 106.0 667)" letter-spacing="0.35">23,6 (0,930)</text><text x="116.60000000000001" y="659" font-size="6.3" text-anchor="middle" fill="#555" font-weight="400" transform="rotate(-90 116.60000000000001 659)" letter-spacing="0.35">15,01</text><text x="122.60000000000001" y="659" font-size="6.3" text-anchor="middle" fill="#555" font-weight="400" transform="rotate(-90 122.60000000000001 659)" letter-spacing="0.35">(0,591)</text><text x="133.0" y="661" font-size="6.3" text-anchor="middle" fill="#555" font-weight="400" transform="rotate(-90 133.0 661)" letter-spacing="0.35">1,01</text><text x="139.0" y="661" font-size="6.3" text-anchor="middle" fill="#555" font-weight="400" transform="rotate(-90 139.0 661)" letter-spacing="0.35">(0,04)</text><line x1="252.7" y1="644" x2="252.7" y2="682.4" stroke="#666" stroke-width="0.7" /><path d="M252.7,644 L251.64999999999998,647 L253.75,647 Z" stroke="#666" stroke-width="0.3" fill="#666" /><path d="M252.7,682.4 L251.64999999999998,679.4 L253.75,679.4 Z" stroke="#666" stroke-width="0.3" fill="#666" /><line x1="274.7" y1="644" x2="274.7" y2="716.2" stroke="#666" stroke-width="0.7" /><path d="M274.7,644 L273.65,647 L275.75,647 Z" stroke="#666" stroke-width="0.3" fill="#666" /><path d="M274.7,716.2 L273.65,713.2 L275.75,713.2 Z" stroke="#666" stroke-width="0.3" fill="#666" /><line x1="295.5" y1="644" x2="295.5" y2="749.8" stroke="#666" stroke-width="0.7" /><path d="M295.5,644 L294.45,647 L296.55,647 Z" stroke="#666" stroke-width="0.3" fill="#666" /><path d="M295.5,749.8 L294.45,746.8 L296.55,746.8 Z" stroke="#666" stroke-width="0.3" fill="#666" /><text x="252.704" y="659.5" font-size="6.4" text-anchor="middle" fill="#555" font-weight="400" transform="rotate(-90 252.704 659.5)" letter-spacing="0.35">18,3</text><text x="257.704" y="659.5" font-size="6.4" text-anchor="middle" fill="#555" font-weight="400" transform="rotate(-90 257.704 659.5)" letter-spacing="0.35">(0.719)</text><text x="273.70399999999995" y="681" font-size="6.4" text-anchor="middle" fill="#555" font-weight="400" transform="rotate(-90 273.70399999999995 681)" letter-spacing="0.35">34,54 (1.36)</text><text x="294.904" y="697" font-size="6.4" text-anchor="middle" fill="#555" font-weight="400" transform="rotate(-90 294.904 697)" letter-spacing="0.35">50,8 (2)</text><line x1="242.4" y1="663.1" x2="242.4" y2="716.2" stroke="#666" stroke-width="0.5" /><path d="M242.4,675.1 L241.35,672.1 L243.45000000000002,672.1 Z" stroke="#555" stroke-width="0.3" fill="#555" /><path d="M242.4,689.2 L241.35,692.2 L243.45000000000002,692.2 Z" stroke="#555" stroke-width="0.3" fill="#555" /><text x="235.8" y="704" font-size="4.4" text-anchor="middle" fill="#555" font-weight="400" transform="rotate(-90 235.8 704)" >max</text><text x="242.00400000000002" y="708" font-size="6.4" text-anchor="middle" fill="#555" font-weight="400" transform="rotate(-90 242.00400000000002 708)" letter-spacing="0.35">ø6,75</text><text x="248.604" y="704" font-size="6.4" text-anchor="middle" fill="#555" font-weight="400" transform="rotate(-90 248.604 704)" letter-spacing="0.35">(ø0,266)</text><line x1="264.4" y1="696.8" x2="264.4" y2="727.1" stroke="#666" stroke-width="0.5" /><path d="M264.4,708.8 L263.34999999999997,705.8 L265.45,705.8 Z" stroke="#555" stroke-width="0.3" fill="#555" /><path d="M264.4,723.1 L263.34999999999997,726.1 L265.45,726.1 Z" stroke="#555" stroke-width="0.3" fill="#555" /><text x="257.8" y="735" font-size="4.4" text-anchor="middle" fill="#555" font-weight="400" transform="rotate(-90 257.8 735)" >max</text><text x="264.00399999999996" y="739" font-size="6.4" text-anchor="middle" fill="#555" font-weight="400" transform="rotate(-90 264.00399999999996 739)" letter-spacing="0.35">ø6,75</text><text x="270.6039999999999" y="735" font-size="6.4" text-anchor="middle" fill="#555" font-weight="400" transform="rotate(-90 270.6039999999999 735)" letter-spacing="0.35">(ø0,266)</text><line x1="282.5" y1="731" x2="282.5" y2="783.4" stroke="#666" stroke-width="0.5" /><path d="M282.5,743 L281.45,740 L283.55,740 Z" stroke="#555" stroke-width="0.3" fill="#555" /><path d="M282.5,757.4 L281.45,760.4 L283.55,760.4 Z" stroke="#555" stroke-width="0.3" fill="#555" /><text x="275.90000000000003" y="772" font-size="4.4" text-anchor="middle" fill="#555" font-weight="400" transform="rotate(-90 275.90000000000003 772)" >max</text><text x="282.104" y="776" font-size="6.4" text-anchor="middle" fill="#555" font-weight="400" transform="rotate(-90 282.104 776)" letter-spacing="0.35">ø6,75</text><text x="288.70399999999995" y="772" font-size="6.4" text-anchor="middle" fill="#555" font-weight="400" transform="rotate(-90 288.70399999999995 772)" letter-spacing="0.35">(ø0,266)</text><line x1="159.4" y1="598" x2="159.4" y2="642" stroke="#666" stroke-width="0.5" /><line x1="221.4" y1="598" x2="221.4" y2="642" stroke="#666" stroke-width="0.5" /><line x1="159.4" y1="600" x2="221.4" y2="600" stroke="#666" stroke-width="0.7" /><path d="M159.4,600 L162.4,598.95 L162.4,601.05 Z" stroke="#666" stroke-width="0.3" fill="#666" /><path d="M221.4,600 L218.4,598.95 L218.4,601.05 Z" stroke="#666" stroke-width="0.3" fill="#666" /><text x="190.8" y="597.7" font-size="6.0" text-anchor="middle" fill="#555" font-weight="400" textLength="35.7" lengthAdjust="spacingAndGlyphs" letter-spacing="0.35">ø30 (ø1,181)</text><line x1="167" y1="609" x2="167" y2="649" stroke="#666" stroke-width="0.5" /><line x1="212.9" y1="609" x2="212.9" y2="649" stroke="#666" stroke-width="0.5" /><line x1="167" y1="611.4" x2="212.9" y2="611.4" stroke="#666" stroke-width="0.7" /><path d="M167,611.4 L170,610.35 L170,612.4499999999999 Z" stroke="#666" stroke-width="0.3" fill="#666" /><path d="M212.9,611.4 L209.9,610.35 L209.9,612.4499999999999 Z" stroke="#666" stroke-width="0.3" fill="#666" /><text x="190" y="609.4" font-size="6.0" text-anchor="middle" fill="#555" font-weight="400" textLength="40" lengthAdjust="spacingAndGlyphs" letter-spacing="0.35">7/8-14UNF-2B</text><line x1="125" y1="622.9" x2="214" y2="622.9" stroke="#666" stroke-width="0.6" /><path d="M169.4,622.9 L166.4,621.85 L166.4,623.9499999999999 Z" stroke="#555" stroke-width="0.3" fill="#555" /><path d="M212.1,622.9 L215.1,621.85 L215.1,623.9499999999999 Z" stroke="#555" stroke-width="0.3" fill="#555" /><text x="126.2" y="620.6" font-size="6.3" text-anchor="start" fill="#555" font-weight="400" letter-spacing="0.35">ø19,05 <tspan font-size="3.8" dy="-2">+0,05</tspan></text><text x="167" y="620.6" font-size="6.3" text-anchor="start" fill="#555" font-weight="400" letter-spacing="0.35">(ø0,750 <tspan font-size="3.8" dy="-2">+0,002</tspan><tspan dy="2">)</tspan></text><rect x="55.9" y="602.8" width="50.2" height="6.1" stroke="#444" stroke-width="0.7" fill="#eceded" /><path d="M58.9,604.0 L58.9,607.6999999999999 M57.1,607.6999999999999 L60.699999999999996,607.6999999999999" stroke="#333" stroke-width="0.6" fill="none" /><line x1="61.9" y1="602.8" x2="61.9" y2="608.9" stroke="#444" stroke-width="0.6" /><text x="79.9" y="607.6" font-size="5.8" text-anchor="middle" fill="#333" font-weight="400" textLength="34.5" lengthAdjust="spacingAndGlyphs" >0,1(0.004)</text><line x1="97.9" y1="602.8" x2="97.9" y2="608.9" stroke="#444" stroke-width="0.6" /><text x="102.0" y="607.6" font-size="5.8" text-anchor="middle" fill="#333" font-weight="400" >A</text><line x1="106.1" y1="605.8" x2="111.7" y2="605.8" stroke="#444" stroke-width="0.6" /><line x1="111.7" y1="605.8" x2="111.7" y2="642.4" stroke="#444" stroke-width="0.6" /><path d="M111.7,642.4 L110.65,639.4 L112.75,639.4 Z" stroke="#555" stroke-width="0.3" fill="#555" /><rect x="242.3" y="613.7" width="53.4" height="5.7" stroke="#444" stroke-width="0.7" fill="#eceded" /><path d="M243.5,618.2 L247.10000000000002,614.9000000000001 M245.5,614.9000000000001 L247.10000000000002,614.9000000000001 L247.10000000000002,616.3000000000001" stroke="#333" stroke-width="0.6" fill="none" /><line x1="248.3" y1="613.7" x2="248.3" y2="619.4000000000001" stroke="#444" stroke-width="0.6" /><text x="267.3" y="618.1000000000001" font-size="5.8" text-anchor="middle" fill="#333" font-weight="400" textLength="36.5" lengthAdjust="spacingAndGlyphs" >0,05(0,002)</text><line x1="286.3" y1="613.7" x2="286.3" y2="619.4000000000001" stroke="#444" stroke-width="0.6" /><text x="291.0" y="618.1000000000001" font-size="5.8" text-anchor="middle" fill="#333" font-weight="400" >A</text><line x1="214.9" y1="616.6" x2="242.3" y2="616.6" stroke="#444" stroke-width="0.6" /><rect x="241.4" y="630.9" width="7.2" height="5.7" stroke="#444" stroke-width="0.7" fill="#eceded" /><text x="245" y="635.5" font-size="5.5" text-anchor="middle" fill="#333" font-weight="400" >A</text><line x1="213" y1="633.7" x2="241.4" y2="633.7" stroke="#444" stroke-width="0.6" /><path d="M211.6,633.7 L215,631.6 L215,635.8 Z" stroke="#111" stroke-width="0.3" fill="#111" /><g transform="rotate(0 87 639.5)"><text x="87" y="639.5" font-size="5.6" fill="#444" letter-spacing="0.3">Ra3</text><path d="M98.8,637.5 L101.4,643.5 L107.3,632.0 M99.3,638.6 L103.2,638.6" stroke="#555" stroke-width="0.55" fill="none"/><text x="101.2" y="638.9" font-size="5.6" fill="#444">2</text></g><g transform="rotate(-90 205.5 641)"><text x="205.5" y="641" font-size="5.6" fill="#444" letter-spacing="0.3">Ra1</text><path d="M217.3,639.0 L219.9,645.0 L225.8,633.5 M217.8,640.1 L221.7,640.1" stroke="#555" stroke-width="0.55" fill="none"/><text x="219.7" y="640.4" font-size="5.6" fill="#444">6</text></g><g transform="rotate(62 157 655)"><text x="157" y="655" font-size="5.6" fill="#444" letter-spacing="0.3">Ra3</text><path d="M168.8,653.0 L171.4,659.0 L177.3,647.5 M169.3,654.1 L173.2,654.1" stroke="#555" stroke-width="0.55" fill="none"/><text x="171.2" y="654.4" font-size="5.6" fill="#444">2</text></g><g transform="rotate(62 160.5 690)"><text x="160.5" y="690" font-size="5.6" fill="#444" letter-spacing="0.3">Ra3</text><path d="M172.3,688.0 L174.9,694.0 L180.8,682.5 M172.8,689.1 L176.7,689.1" stroke="#555" stroke-width="0.55" fill="none"/><text x="174.7" y="689.4" font-size="5.6" fill="#444">2</text></g><g transform="rotate(62 161.5 721)"><text x="161.5" y="721" font-size="5.6" fill="#444" letter-spacing="0.3">Ra3</text><path d="M173.3,719.0 L175.9,725.0 L181.8,713.5 M173.8,720.1 L177.7,720.1" stroke="#555" stroke-width="0.55" fill="none"/><text x="175.7" y="720.4" font-size="5.6" fill="#444">2</text></g><circle cx="165" cy="644.6" r="10" stroke="#666" stroke-width="0.6" fill="none"/><text x="152.2" y="655" font-size="7.5" text-anchor="middle" fill="#444" font-weight="400" >X</text><line x1="142.9" y1="806.6" x2="212.9" y2="806.6" stroke="#666" stroke-width="0.7" /><path d="M142.9,806.6 L145.9,805.5500000000001 L145.9,807.65 Z" stroke="#666" stroke-width="0.3" fill="#666" /><path d="M212.9,806.6 L209.9,805.5500000000001 L209.9,807.65 Z" stroke="#666" stroke-width="0.3" fill="#666" /><text x="155.7" y="797.5" font-size="4.5" text-anchor="middle" fill="#555" font-weight="400" >max</text><text x="155.7" y="804.2" font-size="6.4" text-anchor="middle" fill="#555" font-weight="400" letter-spacing="0.35">ø15,49</text><text x="155.7" y="811.6" font-size="6.4" text-anchor="middle" fill="#555" font-weight="400" letter-spacing="0.35">(ø0,610)</text><rect x="91.4" y="817.7" width="52.9" height="5.5" stroke="#444" stroke-width="0.7" fill="#eceded" /><path d="M92.60000000000001,822.0 L96.2,818.9000000000001 M94.60000000000001,818.9000000000001 L96.2,818.9000000000001 L96.2,820.3000000000001" stroke="#333" stroke-width="0.6" fill="none" /><line x1="97.4" y1="817.7" x2="97.4" y2="823.2" stroke="#444" stroke-width="0.6" /><text x="116.4" y="821.9000000000001" font-size="5.8" text-anchor="middle" fill="#333" font-weight="400" textLength="36.5" lengthAdjust="spacingAndGlyphs" >0,05(0,002)</text><line x1="135.4" y1="817.7" x2="135.4" y2="823.2" stroke="#444" stroke-width="0.6" /><text x="139.85" y="821.9000000000001" font-size="5.8" text-anchor="middle" fill="#333" font-weight="400" >A</text><path d="M144.3,820.3 L160,820.3 L160,841.4 L171,841.4" stroke="#444" stroke-width="0.6" fill="none" /><path d="M172.5,841.4 L169.5,840.35 L169.5,842.4499999999999 Z" stroke="#555" stroke-width="0.3" fill="#555" /><line x1="167" y1="830.9" x2="240" y2="830.9" stroke="#666" stroke-width="0.6" /><path d="M173.3,830.9 L176.3,829.85 L176.3,831.9499999999999 Z" stroke="#555" stroke-width="0.3" fill="#555" /><path d="M207.6,830.9 L204.6,829.85 L204.6,831.9499999999999 Z" stroke="#555" stroke-width="0.3" fill="#555" /><text x="214.9" y="827.3" font-size="6.3" text-anchor="start" fill="#555" font-weight="400" letter-spacing="0.35">ø15,88 <tspan font-size="3.8" dy="-2">+0,05</tspan></text><text x="214.9" y="836.5" font-size="6.3" text-anchor="start" fill="#555" font-weight="400" letter-spacing="0.35">(ø0,625 <tspan font-size="3.8" dy="-2">+0,002</tspan><tspan dy="2">)</tspan></text><line x1="127" y1="851.4" x2="214.3" y2="851.4" stroke="#666" stroke-width="0.6" /><path d="M173.3,851.4 L170.3,850.35 L170.3,852.4499999999999 Z" stroke="#555" stroke-width="0.3" fill="#555" /><path d="M207.6,851.4 L210.6,850.35 L210.6,852.4499999999999 Z" stroke="#555" stroke-width="0.3" fill="#555" /><line x1="212.5" y1="830" x2="212.5" y2="852" stroke="#666" stroke-width="0.5" /><text x="130.9" y="848.8" font-size="6.3" text-anchor="start" fill="#555" font-weight="400" letter-spacing="0.35">ø17,48 <tspan font-size="3.8" dy="-2">+0,05</tspan></text><text x="127.5" y="856.8" font-size="6.3" text-anchor="start" fill="#555" font-weight="400" letter-spacing="0.35">(ø0,688 <tspan font-size="3.8" dy="-2">+0,002</tspan><tspan dy="2">)</tspan></text><g transform="rotate(-60 196 826)"><text x="196" y="826" font-size="5.6" fill="#444" letter-spacing="0.3">Ra1</text><path d="M207.8,824.0 L210.4,830.0 L216.3,818.5 M208.3,825.1 L212.2,825.1" stroke="#555" stroke-width="0.55" fill="none"/><text x="210.2" y="825.4" font-size="5.6" fill="#444">6</text></g><g transform="rotate(-75 181 849)"><text x="181" y="849" font-size="5.6" fill="#444" letter-spacing="0.3">Ra1</text><path d="M192.8,847.0 L195.4,853.0 L201.3,841.5 M193.3,848.1 L197.2,848.1" stroke="#555" stroke-width="0.55" fill="none"/><text x="195.2" y="848.4" font-size="5.6" fill="#444">6</text></g><text x="190.4" y="797" font-size="6.5" text-anchor="middle" fill="#222" font-weight="700" >1</text><g transform="rotate(0 101 882.5)"><text x="101" y="882.5" font-size="5.6" fill="#444" letter-spacing="0.3">Ra12</text><path d="M116.2,880.5 L118.8,886.5 L124.7,875.0 M116.7,881.6 L120.6,881.6" stroke="#555" stroke-width="0.55" fill="none"/><text x="118.6" y="881.9" font-size="5.6" fill="#444">5</text></g><text x="127.5" y="886" font-size="11" text-anchor="middle" fill="#777" font-weight="400" >(</text><g transform="rotate(0 132.4 882.5)"><text x="132.4" y="882.5" font-size="5.6" fill="#444" letter-spacing="0.3">Ra3</text><path d="M144.2,880.5 L146.8,886.5 L152.7,875.0 M144.7,881.6 L148.6,881.6" stroke="#555" stroke-width="0.55" fill="none"/><text x="146.6" y="881.9" font-size="5.6" fill="#444">2</text></g><g transform="rotate(0 156 882.5)"><text x="156" y="882.5" font-size="5.6" fill="#444" letter-spacing="0.3">Ra1</text><path d="M167.8,880.5 L170.4,886.5 L176.3,875.0 M168.3,881.6 L172.2,881.6" stroke="#555" stroke-width="0.55" fill="none"/><text x="170.2" y="881.9" font-size="5.6" fill="#444">6</text></g><text x="179.6" y="886" font-size="11" text-anchor="middle" fill="#777" font-weight="400" >)</text><text x="259.6" y="850" font-size="8" text-anchor="start" fill="#444" font-weight="400" letter-spacing="1.2">X 5:1</text><path d="M233,861 L250,926 Q252,936 255,941" stroke="#444" stroke-width="0.8" fill="none" /><path d="M241.5,923 L280,923 M241.5,928 L280,928 M241.5,923 Q238.5,925.5 241.5,928" stroke="#444" stroke-width="0.8" fill="none" /><line x1="250" y1="928" x2="317" y2="928" stroke="#666" stroke-width="0.5" /><path d="M255,941 L317,941 M255,946 L280,946 M255,941 L255,956 M259,946 L259,956" stroke="#444" stroke-width="0.8" fill="none" /><line x1="255" y1="941" x2="299" y2="985" stroke="#555" stroke-width="0.6" /><path d="M317,941 A44,44 0 0 1 299,985" stroke="#555" stroke-width="0.6" fill="none" /><text x="306" y="972" font-size="5.8" text-anchor="middle" fill="#555" font-weight="400" transform="rotate(-60 306 972)" >45°</text><line x1="317" y1="894" x2="317" y2="941" stroke="#666" stroke-width="0.5" /><path d="M317,928 L315.95,931 L318.05,931 Z" stroke="#555" stroke-width="0.3" fill="#555" /><path d="M317,941 L315.95,938 L318.05,938 Z" stroke="#555" stroke-width="0.3" fill="#555" /><text x="316.304" y="911" font-size="6.4" text-anchor="middle" fill="#555" font-weight="400" transform="rotate(-90 316.304 911)" letter-spacing="0.35">2,54 <tspan font-size="3.8" dy="-2">+0,38</tspan></text><text x="322.804" y="908" font-size="6.4" text-anchor="middle" fill="#555" font-weight="400" transform="rotate(-90 322.804 908)" letter-spacing="0.35">(0,1 <tspan font-size="3.8" dy="-2">+0,015</tspan><tspan dy="2">)</tspan></text><line x1="251" y1="895.4" x2="293" y2="895.4" stroke="#666" stroke-width="0.6" /><line x1="251" y1="895.4" x2="251" y2="928" stroke="#666" stroke-width="0.6" /><path d="M251,926 L249.95,923 L252.05,923 Z" stroke="#555" stroke-width="0.3" fill="#555" /><text x="257" y="893.2" font-size="6.3" text-anchor="start" fill="#555" font-weight="400" letter-spacing="0.35">ø23,90 <tspan font-size="3.8" dy="-2">+0,1</tspan></text><text x="255" y="900.6" font-size="6.3" text-anchor="start" fill="#555" font-weight="400" letter-spacing="0.35">(ø0,941 <tspan font-size="3.8" dy="-2">+0,004</tspan><tspan dy="2">)</tspan></text><line x1="263" y1="911.6" x2="297" y2="911.6" stroke="#666" stroke-width="0.6" /><line x1="263" y1="911.6" x2="242" y2="925" stroke="#666" stroke-width="0.6" /><text x="265" y="909.4" font-size="6.3" text-anchor="start" fill="#555" font-weight="400" letter-spacing="0.35">R0,4 <tspan font-size="3.5">max</tspan></text><text x="263" y="917" font-size="6.3" text-anchor="start" fill="#555" font-weight="400" letter-spacing="0.35">(R0,015 <tspan font-size="3.5">max</tspan>)</text><line x1="212" y1="958" x2="250" y2="929" stroke="#666" stroke-width="0.6" /><text x="221" y="946" font-size="6.3" text-anchor="middle" fill="#555" font-weight="400" transform="rotate(-37 221 946)" letter-spacing="0.35">R0,1-0,2</text><text x="228" y="952" font-size="6.3" text-anchor="middle" fill="#555" font-weight="400" transform="rotate(-37 228 952)" letter-spacing="0.35">(R0,003-0,007)</text><path d="M241,885 Q268,878 295,883" stroke="#666" stroke-width="0.6" fill="none" /><path d="M241,885 L244,883.95 L244,886.05 Z" stroke="#555" stroke-width="0.3" fill="#555" /><text x="269" y="880.5" font-size="6.3" text-anchor="start" fill="#555" font-weight="400" letter-spacing="0.35">30° <tspan font-size="3.5">±1°</tspan></text><rect x="262" y="867.6" width="50" height="6" stroke="#444" stroke-width="0.7" fill="#eceded" /><path d="M263.2,872.4 L266.8,868.8000000000001 M265.2,868.8000000000001 L266.8,868.8000000000001 L266.8,870.2" stroke="#333" stroke-width="0.6" fill="none" /><line x1="268" y1="867.6" x2="268" y2="873.6" stroke="#444" stroke-width="0.6" /><text x="285.5" y="872.3000000000001" font-size="5.8" text-anchor="middle" fill="#333" font-weight="400" textLength="33.5" lengthAdjust="spacingAndGlyphs" >0,1(0,004)</text><line x1="303" y1="867.6" x2="303" y2="873.6" stroke="#444" stroke-width="0.6" /><text x="307.5" y="872.3000000000001" font-size="5.8" text-anchor="middle" fill="#333" font-weight="400" >A</text><path d="M262,870.6 L253,870.6 L237,873.6" stroke="#444" stroke-width="0.6" fill="none" /><g transform="rotate(-72 236.5 868)"><text x="236.5" y="868" font-size="5.6" fill="#444" letter-spacing="0.3">Ra1</text><path d="M248.3,866.0 L250.9,872.0 L256.8,860.5 M248.8,867.1 L252.7,867.1" stroke="#555" stroke-width="0.55" fill="none"/><text x="250.7" y="867.4" font-size="5.6" fill="#444">6</text></g><text x="226" y="1002.6" font-size="7" text-anchor="start" fill="#333" font-weight="400" textLength="45.4" lengthAdjust="spacingAndGlyphs" >Millimeter (Inch)</text><text x="226" y="1008.4" font-size="7" text-anchor="start" fill="#333" font-weight="400" textLength="105.4" lengthAdjust="spacingAndGlyphs" >Technische Änderungen vorbehalten!</text><line x1="442.64285714285717" y1="623.6" x2="442.64285714285717" y2="721.2" stroke="#b4b4b4" stroke-width="0.6" stroke-dasharray="2,1.5"/><line x1="465.2857142857143" y1="623.6" x2="465.2857142857143" y2="721.2" stroke="#b4b4b4" stroke-width="0.6" stroke-dasharray="2,1.5"/><line x1="487.92857142857144" y1="623.6" x2="487.92857142857144" y2="721.2" stroke="#b4b4b4" stroke-width="0.6" stroke-dasharray="2,1.5"/><line x1="510.57142857142856" y1="623.6" x2="510.57142857142856" y2="721.2" stroke="#b4b4b4" stroke-width="0.6" stroke-dasharray="2,1.5"/><line x1="533.2142857142857" y1="623.6" x2="533.2142857142857" y2="721.2" stroke="#b4b4b4" stroke-width="0.6" stroke-dasharray="2,1.5"/><line x1="555.8571428571429" y1="623.6" x2="555.8571428571429" y2="721.2" stroke="#b4b4b4" stroke-width="0.6" stroke-dasharray="2,1.5"/><line x1="420.0" y1="704.9333333333334" x2="578.5" y2="704.9333333333334" stroke="#b4b4b4" stroke-width="0.6" stroke-dasharray="2,1.5"/><line x1="420.0" y1="688.6666666666667" x2="578.5" y2="688.6666666666667" stroke="#b4b4b4" stroke-width="0.6" stroke-dasharray="2,1.5"/><line x1="420.0" y1="672.4000000000001" x2="578.5" y2="672.4000000000001" stroke="#b4b4b4" stroke-width="0.6" stroke-dasharray="2,1.5"/><line x1="420.0" y1="656.1333333333333" x2="578.5" y2="656.1333333333333" stroke="#b4b4b4" stroke-width="0.6" stroke-dasharray="2,1.5"/><line x1="420.0" y1="639.8666666666667" x2="578.5" y2="639.8666666666667" stroke="#b4b4b4" stroke-width="0.6" stroke-dasharray="2,1.5"/><rect x="420.0" y="623.6" width="158.5" height="97.60000000000002" stroke="#aaa" stroke-width="0.9" fill="none" /><line x1="420.0" y1="721.2" x2="578.5" y2="721.2" stroke="#555" stroke-width="0.9" /><line x1="420.0" y1="623.6" x2="578.5" y2="623.6" stroke="#999" stroke-width="1.3" /><text x="416.9" y="722.8000000000001" font-size="4.6" text-anchor="end" fill="#666" font-weight="400" >0</text><text x="416.9" y="706.5333333333334" font-size="4.6" text-anchor="end" fill="#666" font-weight="400" >2.5</text><text x="416.9" y="690.2666666666668" font-size="4.6" text-anchor="end" fill="#666" font-weight="400" >5</text><text x="416.9" y="674.0000000000001" font-size="4.6" text-anchor="end" fill="#666" font-weight="400" >7.5</text><text x="416.9" y="657.7333333333333" font-size="4.6" text-anchor="end" fill="#666" font-weight="400" >10</text><text x="416.9" y="641.4666666666667" font-size="4.6" text-anchor="end" fill="#666" font-weight="400" >12.5</text><text x="416.9" y="625.2" font-size="4.6" text-anchor="end" fill="#666" font-weight="400" >15</text><text x="408.6" y="617.5" font-size="4.6" text-anchor="middle" fill="#666" font-weight="400" >bar</text><text x="391" y="617.5" font-size="4.6" text-anchor="middle" fill="#666" font-weight="400" >psi</text><line x1="397.9" y1="624.3" x2="397.9" y2="721.7" stroke="#777" stroke-width="0.7" /><line x1="397.9" y1="721.7" x2="400" y2="721.7" stroke="#777" stroke-width="0.7" /><text x="394.7" y="723.0" font-size="4.6" text-anchor="end" fill="#666" font-weight="400" >0</text><line x1="397.9" y1="721.4" x2="400" y2="721.4" stroke="#777" stroke-width="0.6" /><line x1="397.9" y1="715.8" x2="399.2" y2="715.8" stroke="#777" stroke-width="0.5" /><text x="394.7" y="711.8" font-size="4.6" text-anchor="end" fill="#666" font-weight="400" >25</text><line x1="397.9" y1="710.1999999999999" x2="400" y2="710.1999999999999" stroke="#777" stroke-width="0.6" /><line x1="397.9" y1="704.5999999999999" x2="399.2" y2="704.5999999999999" stroke="#777" stroke-width="0.5" /><text x="394.7" y="700.6" font-size="4.6" text-anchor="end" fill="#666" font-weight="400" >50</text><line x1="397.9" y1="699.0" x2="400" y2="699.0" stroke="#777" stroke-width="0.6" /><line x1="397.9" y1="693.4" x2="399.2" y2="693.4" stroke="#777" stroke-width="0.5" /><text x="394.7" y="689.4" font-size="4.6" text-anchor="end" fill="#666" font-weight="400" >75</text><line x1="397.9" y1="687.8" x2="400" y2="687.8" stroke="#777" stroke-width="0.6" /><line x1="397.9" y1="682.1999999999999" x2="399.2" y2="682.1999999999999" stroke="#777" stroke-width="0.5" /><text x="394.7" y="678.2" font-size="4.6" text-anchor="end" fill="#666" font-weight="400" >100</text><line x1="397.9" y1="676.6" x2="400" y2="676.6" stroke="#777" stroke-width="0.6" /><line x1="397.9" y1="671.0" x2="399.2" y2="671.0" stroke="#777" stroke-width="0.5" /><text x="394.7" y="667.0" font-size="4.6" text-anchor="end" fill="#666" font-weight="400" >125</text><line x1="397.9" y1="665.4" x2="400" y2="665.4" stroke="#777" stroke-width="0.6" /><line x1="397.9" y1="659.8" x2="399.2" y2="659.8" stroke="#777" stroke-width="0.5" /><text x="394.7" y="655.8000000000001" font-size="4.6" text-anchor="end" fill="#666" font-weight="400" >150</text><line x1="397.9" y1="654.2" x2="400" y2="654.2" stroke="#777" stroke-width="0.6" /><line x1="397.9" y1="648.6" x2="399.2" y2="648.6" stroke="#777" stroke-width="0.5" /><text x="394.7" y="644.6" font-size="4.6" text-anchor="end" fill="#666" font-weight="400" >175</text><line x1="397.9" y1="643.0" x2="400" y2="643.0" stroke="#777" stroke-width="0.6" /><line x1="397.9" y1="637.4" x2="399.2" y2="637.4" stroke="#777" stroke-width="0.5" /><text x="394.7" y="633.4" font-size="4.6" text-anchor="end" fill="#666" font-weight="400" >200</text><line x1="397.9" y1="631.8" x2="400" y2="631.8" stroke="#777" stroke-width="0.6" /><text x="420.0" y="728.6" font-size="4.6" text-anchor="middle" fill="#666" font-weight="400" >0</text><text x="442.64285714285717" y="728.6" font-size="4.6" text-anchor="middle" fill="#666" font-weight="400" >5</text><text x="465.2857142857143" y="728.6" font-size="4.6" text-anchor="middle" fill="#666" font-weight="400" >10</text><text x="487.92857142857144" y="728.6" font-size="4.6" text-anchor="middle" fill="#666" font-weight="400" >15</text><text x="510.57142857142856" y="728.6" font-size="4.6" text-anchor="middle" fill="#666" font-weight="400" >20</text><text x="533.2142857142857" y="728.6" font-size="4.6" text-anchor="middle" fill="#666" font-weight="400" >25</text><text x="555.8571428571429" y="728.6" font-size="4.6" text-anchor="middle" fill="#666" font-weight="400" >30</text><text x="578.5" y="728.6" font-size="4.6" text-anchor="middle" fill="#666" font-weight="400" >35</text><text x="588" y="725.5" font-size="3.6" text-anchor="middle" fill="#666" font-weight="400" >l/min</text><line x1="420.0" y1="738.6" x2="576.2657857142857" y2="738.6" stroke="#777" stroke-width="0.7" /><line x1="420.0" y1="737.0" x2="420.0" y2="738.6" stroke="#777" stroke-width="0.6" /><line x1="428.57032142857145" y1="737.6" x2="428.57032142857145" y2="738.6" stroke="#777" stroke-width="0.5" /><text x="420.0" y="745.8" font-size="4.6" text-anchor="middle" fill="#666" font-weight="400" >0</text><line x1="437.14064285714284" y1="737.0" x2="437.14064285714284" y2="738.6" stroke="#777" stroke-width="0.6" /><line x1="445.7109642857143" y1="737.6" x2="445.7109642857143" y2="738.6" stroke="#777" stroke-width="0.5" /><text x="437.14064285714284" y="745.8" font-size="4.6" text-anchor="middle" fill="#666" font-weight="400" >1</text><line x1="454.28128571428573" y1="737.0" x2="454.28128571428573" y2="738.6" stroke="#777" stroke-width="0.6" /><line x1="462.8516071428572" y1="737.6" x2="462.8516071428572" y2="738.6" stroke="#777" stroke-width="0.5" /><text x="454.28128571428573" y="745.8" font-size="4.6" text-anchor="middle" fill="#666" font-weight="400" >2</text><line x1="471.42192857142857" y1="737.0" x2="471.42192857142857" y2="738.6" stroke="#777" stroke-width="0.6" /><line x1="479.99225" y1="737.6" x2="479.99225" y2="738.6" stroke="#777" stroke-width="0.5" /><text x="471.42192857142857" y="745.8" font-size="4.6" text-anchor="middle" fill="#666" font-weight="400" >3</text><line x1="488.56257142857146" y1="737.0" x2="488.56257142857146" y2="738.6" stroke="#777" stroke-width="0.6" /><line x1="497.1328928571429" y1="737.6" x2="497.1328928571429" y2="738.6" stroke="#777" stroke-width="0.5" /><text x="488.56257142857146" y="745.8" font-size="4.6" text-anchor="middle" fill="#666" font-weight="400" >4</text><line x1="505.7032142857143" y1="737.0" x2="505.7032142857143" y2="738.6" stroke="#777" stroke-width="0.6" /><line x1="514.2735357142857" y1="737.6" x2="514.2735357142857" y2="738.6" stroke="#777" stroke-width="0.5" /><text x="505.7032142857143" y="745.8" font-size="4.6" text-anchor="middle" fill="#666" font-weight="400" >5</text><line x1="522.8438571428571" y1="737.0" x2="522.8438571428571" y2="738.6" stroke="#777" stroke-width="0.6" /><line x1="531.4141785714286" y1="737.6" x2="531.4141785714286" y2="738.6" stroke="#777" stroke-width="0.5" /><text x="522.8438571428571" y="745.8" font-size="4.6" text-anchor="middle" fill="#666" font-weight="400" >6</text><line x1="539.9845" y1="737.0" x2="539.9845" y2="738.6" stroke="#777" stroke-width="0.6" /><line x1="548.5548214285715" y1="737.6" x2="548.5548214285715" y2="738.6" stroke="#777" stroke-width="0.5" /><text x="539.9845" y="745.8" font-size="4.6" text-anchor="middle" fill="#666" font-weight="400" >7</text><line x1="557.1251428571429" y1="737.0" x2="557.1251428571429" y2="738.6" stroke="#777" stroke-width="0.6" /><line x1="565.6954642857144" y1="737.6" x2="565.6954642857144" y2="738.6" stroke="#777" stroke-width="0.5" /><text x="557.1251428571429" y="745.8" font-size="4.6" text-anchor="middle" fill="#666" font-weight="400" >8</text><line x1="574.2657857142857" y1="737.0" x2="574.2657857142857" y2="738.6" stroke="#777" stroke-width="0.6" /><line x1="582.8361071428571" y1="737.6" x2="582.8361071428571" y2="738.6" stroke="#777" stroke-width="0.5" /><text x="574.2657857142857" y="745.8" font-size="4.6" text-anchor="middle" fill="#666" font-weight="400" >9</text><text x="584.5" y="742" font-size="3.6" text-anchor="middle" fill="#666" font-weight="400" >US gpm</text><path d="M420.0,721.2 C423.8,720.4 435.1,718.4 442.6,716.6 C450.2,714.9 457.7,713.0 465.3,710.8 C472.8,708.6 480.4,706.6 487.9,703.6 C495.5,700.7 503.0,697.1 510.6,693.2 C518.1,689.3 525.7,685.1 533.2,680.2 C540.8,675.3 548.3,669.3 555.9,663.9 C563.4,658.6 574.7,650.9 578.5,648.3" stroke="#222" stroke-width="1.5" fill="none" /><path d="M420.0,721.2 C423.8,720.5 435.1,719.0 442.6,717.3 C450.2,715.6 457.7,713.2 465.3,710.8 C472.8,708.4 480.4,706.2 487.9,703.0 C495.5,699.7 503.0,695.7 510.6,691.3 C518.1,686.8 525.7,681.8 533.2,676.3 C540.8,670.8 548.3,664.2 555.9,658.1 C563.4,652.0 574.7,642.9 578.5,639.9" stroke="#333" stroke-width="1.3" fill="none" stroke-dasharray="7,2,2,2"/><path d="M420.0,721.2 C423.8,720.9 435.1,720.0 442.6,719.2 C450.2,718.5 457.7,717.6 465.3,716.6 C472.8,715.7 480.4,714.7 487.9,713.4 C495.5,712.1 503.0,710.8 510.6,708.8 C518.1,706.9 525.7,704.3 533.2,701.7 C540.8,699.1 548.3,696.1 555.9,693.2 C563.4,690.3 574.7,685.6 578.5,684.1" stroke="#333" stroke-width="1.3" fill="none" stroke-dasharray="6,3"/><path d="M420.0,721.2 C423.8,720.8 435.1,719.8 442.6,718.6 C450.2,717.4 457.7,715.7 465.3,714.0 C472.8,712.4 480.4,711.1 487.9,708.8 C495.5,706.6 503.0,703.5 510.6,700.4 C518.1,697.2 525.7,693.8 533.2,690.0 C540.8,686.2 548.3,682.1 555.9,677.6 C563.4,673.2 574.7,665.7 578.5,663.3" stroke="#333" stroke-width="1.3" fill="none" stroke-dasharray="2.2,2.2"/><rect x="437.9" y="641.4" width="55.4" height="27.5" stroke="#999" stroke-width="1.4" fill="#e5e6e9" /><line x1="439" y1="644.5" x2="470.5" y2="644.5" stroke="#222" stroke-width="1.5" /><text x="470.8" y="646.5" font-size="5.8" text-anchor="start" fill="#444" font-weight="400" textLength="15.7" lengthAdjust="spacingAndGlyphs" >3 =&gt; 4</text><line x1="439" y1="651.7" x2="470.5" y2="651.7" stroke="#333" stroke-width="1.4" stroke-dasharray="5,2,2,2"/><text x="470.8" y="653.7" font-size="5.8" text-anchor="start" fill="#444" font-weight="400" textLength="15.7" lengthAdjust="spacingAndGlyphs" >3 =&gt; 2</text><line x1="439" y1="658.6" x2="470.5" y2="658.6" stroke="#333" stroke-width="1.4" stroke-dasharray="5,3"/><text x="470.8" y="660.6" font-size="5.8" text-anchor="start" fill="#444" font-weight="400" textLength="15.7" lengthAdjust="spacingAndGlyphs" >2 =&gt; 1</text><line x1="439" y1="665.2" x2="470.5" y2="665.2" stroke="#333" stroke-width="1.4" stroke-dasharray="2.2,2.8"/><text x="470.8" y="667.2" font-size="5.8" text-anchor="start" fill="#444" font-weight="400" textLength="15.7" lengthAdjust="spacingAndGlyphs" >4 =&gt; 1</text><text x="368.8" y="673.7" font-size="10.2" text-anchor="middle" fill="#222" font-weight="400" transform="rotate(-90 368.8 673.7)" >Druckverlust</text><text x="504.8" y="758.2" font-size="10.2" text-anchor="middle" fill="#222" font-weight="400" >Volumenstrom</text><line x1="475.0375" y1="790.6" x2="475.0375" y2="885.6" stroke="#888" stroke-width="0.7" /><line x1="522.475" y1="790.6" x2="522.475" y2="885.6" stroke="#888" stroke-width="0.7" /><line x1="569.9124999999999" y1="790.6" x2="569.9124999999999" y2="885.6" stroke="#888" stroke-width="0.7" /><line x1="427.6" y1="858.4571428571429" x2="579.4" y2="858.4571428571429" stroke="#888" stroke-width="0.7" /><line x1="427.6" y1="831.3142857142857" x2="579.4" y2="831.3142857142857" stroke="#888" stroke-width="0.7" /><line x1="427.6" y1="804.1714285714286" x2="579.4" y2="804.1714285714286" stroke="#888" stroke-width="0.7" /><rect x="427.6" y="790.6" width="151.79999999999995" height="95.0" stroke="#555" stroke-width="0.9" fill="none" /><line x1="427.6" y1="790.6" x2="579.4" y2="790.6" stroke="#444" stroke-width="1.2" /><line x1="451.31875" y1="883.6" x2="451.31875" y2="885.6" stroke="#555" stroke-width="0.6" /><line x1="498.75625" y1="883.6" x2="498.75625" y2="885.6" stroke="#555" stroke-width="0.6" /><line x1="546.19375" y1="883.6" x2="546.19375" y2="885.6" stroke="#555" stroke-width="0.6" /><line x1="427.6" y1="872.0285714285715" x2="429.6" y2="872.0285714285715" stroke="#555" stroke-width="0.6" /><line x1="427.6" y1="844.8857142857144" x2="429.6" y2="844.8857142857144" stroke="#555" stroke-width="0.6" /><line x1="427.6" y1="817.7428571428571" x2="429.6" y2="817.7428571428571" stroke="#555" stroke-width="0.6" /><text x="425.3" y="888.1" font-size="7" text-anchor="end" fill="#555" font-weight="400" letter-spacing="0.7">0</text><text x="425.3" y="860.9571428571429" font-size="7" text-anchor="end" fill="#555" font-weight="400" letter-spacing="0.7">100</text><text x="425.3" y="833.8142857142857" font-size="7" text-anchor="end" fill="#555" font-weight="400" letter-spacing="0.7">200</text><text x="425.3" y="806.6714285714286" font-size="7" text-anchor="end" fill="#555" font-weight="400" letter-spacing="0.7">300</text><text x="425.3" y="793.1" font-size="7" text-anchor="end" fill="#555" font-weight="400" letter-spacing="0.7">350</text><line x1="406.4" y1="790.6" x2="406.4" y2="886" stroke="#666" stroke-width="0.8" /><text x="401.3" y="794.8" font-size="7" text-anchor="end" fill="#555" font-weight="400" letter-spacing="0.7">5000</text><line x1="406.4" y1="792.3" x2="408.5" y2="792.3" stroke="#666" stroke-width="0.6" /><text x="401.3" y="813.5" font-size="7" text-anchor="end" fill="#555" font-weight="400" letter-spacing="0.7">4000</text><line x1="406.4" y1="811" x2="408.5" y2="811" stroke="#666" stroke-width="0.6" /><text x="401.3" y="831.8" font-size="7" text-anchor="end" fill="#555" font-weight="400" letter-spacing="0.7">3000</text><line x1="406.4" y1="829.3" x2="408.5" y2="829.3" stroke="#666" stroke-width="0.6" /><text x="401.3" y="850.7" font-size="7" text-anchor="end" fill="#555" font-weight="400" letter-spacing="0.7">2000</text><line x1="406.4" y1="848.2" x2="408.5" y2="848.2" stroke="#666" stroke-width="0.6" /><text x="401.3" y="869.5" font-size="7" text-anchor="end" fill="#555" font-weight="400" letter-spacing="0.7">1000</text><line x1="406.4" y1="867" x2="408.5" y2="867" stroke="#666" stroke-width="0.6" /><text x="401.3" y="888.4" font-size="7" text-anchor="end" fill="#555" font-weight="400" letter-spacing="0.7">0</text><line x1="406.4" y1="885.9" x2="408.5" y2="885.9" stroke="#666" stroke-width="0.6" /><text x="392.7" y="779.5" font-size="6.3" text-anchor="middle" fill="#555" font-weight="400" letter-spacing="0.7">psi</text><text x="416.7" y="779.5" font-size="6.3" text-anchor="middle" fill="#555" font-weight="400" letter-spacing="0.7">bar</text><text x="427.6" y="894.4" font-size="7" text-anchor="middle" fill="#555" font-weight="400" letter-spacing="0.7">0</text><text x="475.0375" y="894.4" font-size="7" text-anchor="middle" fill="#555" font-weight="400" letter-spacing="0.7">10</text><text x="522.475" y="894.4" font-size="7" text-anchor="middle" fill="#555" font-weight="400" letter-spacing="0.7">20</text><text x="569.9124999999999" y="894.4" font-size="7" text-anchor="middle" fill="#555" font-weight="400" letter-spacing="0.7">30</text><text x="578.6" y="891" font-size="4.5" text-anchor="middle" fill="#555" font-weight="400" >32</text><text x="584" y="894.4" font-size="6.3" text-anchor="start" fill="#555" font-weight="400" letter-spacing="0.7">L/min</text><line x1="427.6" y1="902.9" x2="579.4" y2="902.9" stroke="#666" stroke-width="0.8" /><text x="427.6" y="914.3" font-size="7" text-anchor="middle" fill="#555" font-weight="400" letter-spacing="0.7">0</text><line x1="427.6" y1="901.1" x2="427.6" y2="902.9" stroke="#666" stroke-width="0.6" /><line x1="436.577546875" y1="901.1" x2="436.577546875" y2="902.9" stroke="#666" stroke-width="0.6" /><text x="445.55509375" y="914.3" font-size="7" text-anchor="middle" fill="#555" font-weight="400" letter-spacing="0.7">1</text><line x1="445.55509375" y1="901.1" x2="445.55509375" y2="902.9" stroke="#666" stroke-width="0.6" /><line x1="454.532640625" y1="901.1" x2="454.532640625" y2="902.9" stroke="#666" stroke-width="0.6" /><text x="463.51018750000003" y="914.3" font-size="7" text-anchor="middle" fill="#555" font-weight="400" letter-spacing="0.7">2</text><line x1="463.51018750000003" y1="901.1" x2="463.51018750000003" y2="902.9" stroke="#666" stroke-width="0.6" /><line x1="472.487734375" y1="901.1" x2="472.487734375" y2="902.9" stroke="#666" stroke-width="0.6" /><text x="481.46528125000003" y="914.3" font-size="7" text-anchor="middle" fill="#555" font-weight="400" letter-spacing="0.7">3</text><line x1="481.46528125000003" y1="901.1" x2="481.46528125000003" y2="902.9" stroke="#666" stroke-width="0.6" /><line x1="490.442828125" y1="901.1" x2="490.442828125" y2="902.9" stroke="#666" stroke-width="0.6" /><text x="499.42037500000004" y="914.3" font-size="7" text-anchor="middle" fill="#555" font-weight="400" letter-spacing="0.7">4</text><line x1="499.42037500000004" y1="901.1" x2="499.42037500000004" y2="902.9" stroke="#666" stroke-width="0.6" /><line x1="508.397921875" y1="901.1" x2="508.397921875" y2="902.9" stroke="#666" stroke-width="0.6" /><text x="517.37546875" y="914.3" font-size="7" text-anchor="middle" fill="#555" font-weight="400" letter-spacing="0.7">5</text><line x1="517.37546875" y1="901.1" x2="517.37546875" y2="902.9" stroke="#666" stroke-width="0.6" /><line x1="526.353015625" y1="901.1" x2="526.353015625" y2="902.9" stroke="#666" stroke-width="0.6" /><text x="535.3305625" y="914.3" font-size="7" text-anchor="middle" fill="#555" font-weight="400" letter-spacing="0.7">6</text><line x1="535.3305625" y1="901.1" x2="535.3305625" y2="902.9" stroke="#666" stroke-width="0.6" /><line x1="544.3081093750001" y1="901.1" x2="544.3081093750001" y2="902.9" stroke="#666" stroke-width="0.6" /><text x="553.28565625" y="914.3" font-size="7" text-anchor="middle" fill="#555" font-weight="400" letter-spacing="0.7">7</text><line x1="553.28565625" y1="901.1" x2="553.28565625" y2="902.9" stroke="#666" stroke-width="0.6" /><line x1="562.263203125" y1="901.1" x2="562.263203125" y2="902.9" stroke="#666" stroke-width="0.6" /><text x="571.2407499999999" y="914.3" font-size="7" text-anchor="middle" fill="#555" font-weight="400" letter-spacing="0.7">8</text><line x1="571.2407499999999" y1="901.1" x2="571.2407499999999" y2="902.9" stroke="#666" stroke-width="0.6" /><text x="580" y="914.3" font-size="6.3" text-anchor="start" fill="#555" font-weight="400" letter-spacing="0.7">US gpm</text><path d="M503.7,790.6 L546,842 L579.4,847.1" stroke="#555" stroke-width="0.9" fill="none" /><path d="M518,790.6 L546,831.2 L579.4,842" stroke="#555" stroke-width="0.9" fill="none" /><path d="M560.2,790.6 L579.4,812" stroke="#555" stroke-width="0.9" fill="none" /><text x="457" y="779.6" font-size="6.5" text-anchor="start" fill="#444" font-weight="400" textLength="93.4" lengthAdjust="spacingAndGlyphs" >3-&gt;4, 2-&gt;1, 3-&gt;2, 1-&gt;4</text><path d="M457,781.8 L551.7,781.8 L573.4,790.6" stroke="#666" stroke-width="0.6" fill="none" /><text x="538.3" y="800.5" font-size="6.5" text-anchor="start" fill="#444" font-weight="400" textLength="16.5" lengthAdjust="spacingAndGlyphs" >4-&gt;1</text><path d="M536.6,802.2 L555.4,802.2 L564,797.4" stroke="#666" stroke-width="0.6" fill="none" /><text x="495.8" y="815.4" font-size="6.5" text-anchor="start" fill="#444" font-weight="400" textLength="16.5" lengthAdjust="spacingAndGlyphs" >4-&gt;3</text><path d="M493.7,816.6 L514.3,816.6 L518.6,811" stroke="#666" stroke-width="0.6" fill="none" /><text x="547" y="815.4" font-size="6.5" text-anchor="start" fill="#444" font-weight="400" textLength="16.5" lengthAdjust="spacingAndGlyphs" >1-&gt;2</text><text x="368.8" y="835.8" font-size="10.2" text-anchor="middle" fill="#222" font-weight="400" transform="rotate(-90 368.8 835.8)" >Druck</text><text x="506.3" y="928" font-size="10.2" text-anchor="middle" fill="#222" font-weight="400" >Volumenstrom</text>
</svg>
<div class="t" style="left:362px;top:12.50px;font-size:15px;font-weight:700;color:#111;transform:scaleY(1.02);transform-origin:0 12.70px;">TYPENSCHLÜSSEL</div><div class="t" style="left:514.6px;top:15.24px;font-size:12px;font-weight:700;color:#111;transform:scaleY(1.05);transform-origin:0 10.16px;">WK10Y</div><div class="t" style="left:561px;top:15.24px;font-size:12px;font-weight:700;color:#111;transform:scaleY(1.05);transform-origin:0 10.16px;">-</div><div class="t" style="left:567px;top:15.24px;font-size:12px;font-weight:700;color:#111;transform:scaleY(1.05);transform-origin:0 10.16px;">01</div><div class="t" style="left:587px;top:15.24px;font-size:12px;font-weight:700;color:#111;transform:scaleY(1.05);transform-origin:0 10.16px;">M</div><div class="t" style="left:601px;top:15.24px;font-size:12px;font-weight:700;color:#111;transform:scaleY(1.05);transform-origin:0 10.16px;">-</div><div class="t" style="left:608px;top:15.24px;font-size:12px;font-weight:700;color:#111;transform:scaleY(1.05);transform-origin:0 10.16px;">C</div><div class="t" style="left:620.5px;top:15.24px;font-size:12px;font-weight:700;color:#111;transform:scaleY(1.05);transform-origin:0 10.16px;">-</div><div class="t" style="left:626.5px;top:15.24px;font-size:12px;font-weight:700;color:#111;transform:scaleY(1.05);transform-origin:0 10.16px;">N</div><div class="t" style="left:640px;top:15.24px;font-size:12px;font-weight:700;color:#111;transform:scaleY(1.05);transform-origin:0 10.16px;">-</div><div class="t" style="left:647px;top:15.24px;font-size:12px;font-weight:700;color:#111;transform:scaleY(1.05);transform-origin:0 10.16px;">24</div><div class="t" style="left:667px;top:15.24px;font-size:12px;font-weight:700;color:#111;transform:scaleY(1.05);transform-origin:0 10.16px;">DG</div><div class="t" style="left:361.5px;top:30.97px;font-size:9.6px;font-weight:700;color:#111;transform:scaleY(1.05);transform-origin:0 8.13px;">Benennung</div><div class="t" style="left:361.5px;top:40.67px;font-size:9.6px;transform:scaleY(1.05);transform-origin:0 8.13px;">Wegeschieberventil, UNF</div><div class="t" style="left:361.5px;top:52.77px;font-size:9.6px;font-weight:700;color:#111;transform:scaleY(1.05);transform-origin:0 8.13px;">Ausführung</div><div class="t" style="left:361.5px;top:62.47px;font-size:9.6px;transform:scaleY(1.05);transform-origin:0 8.13px;">01</div><div class="t" style="left:382.8px;top:62.47px;font-size:9.6px;transform:scaleY(1.05);transform-origin:0 8.13px;">=</div><div class="t" style="left:391px;top:62.47px;font-size:9.6px;transform:scaleY(1.05);transform-origin:0 8.13px;">Standard</div><div class="t" style="left:361.5px;top:74.57px;font-size:9.6px;font-weight:700;color:#111;transform:scaleY(1.05);transform-origin:0 8.13px;">Nothandbetätigung</div><div class="t" style="left:361.5px;top:84.27px;font-size:9.6px;transform:scaleY(1.05);transform-origin:0 8.13px;">ohne Angabe = ohne Nothandbetätigung</div><div class="t" style="left:361.5px;top:93.97px;font-size:9.6px;transform:scaleY(1.05);transform-origin:0 8.13px;">M</div><div class="t" style="left:382.8px;top:93.97px;font-size:9.6px;transform:scaleY(1.05);transform-origin:0 8.13px;">=</div><div class="t" style="left:391px;top:93.97px;font-size:9.6px;transform:scaleY(1.05);transform-origin:0 8.13px;">mit Nothandbetätigung</div><div class="t" style="left:361.5px;top:106.07px;font-size:9.6px;font-weight:700;color:#111;transform:scaleY(1.05);transform-origin:0 8.13px;">Anschlussart*</div><div class="t" style="left:361.5px;top:115.77px;font-size:9.6px;transform:scaleY(1.05);transform-origin:0 8.13px;">C</div><div class="t" style="left:382.8px;top:115.77px;font-size:9.6px;transform:scaleY(1.05);transform-origin:0 8.13px;">=</div><div class="t" style="left:391px;top:115.77px;font-size:9.6px;transform:scaleY(1.05);transform-origin:0 8.13px;">nur Einschraubventil (Cartridge)</div><div class="t" style="left:361.5px;top:125.47px;font-size:9.6px;transform:scaleY(1.05);transform-origin:0 8.13px;">SB4</div><div class="t" style="left:382.8px;top:125.47px;font-size:9.6px;transform:scaleY(1.05);transform-origin:0 8.13px;">=</div><div class="t" style="left:391px;top:125.47px;font-size:9.6px;transform:scaleY(1.05);transform-origin:0 8.13px;">G1/2 Anschlussgehäuse, Stahl</div><div class="t" style="left:361.5px;top:135.17px;font-size:9.6px;transform:scaleY(1.05);transform-origin:0 8.13px;">AB4</div><div class="t" style="left:382.8px;top:135.17px;font-size:9.6px;transform:scaleY(1.05);transform-origin:0 8.13px;">=</div><div class="t" style="left:391px;top:135.17px;font-size:9.6px;transform:scaleY(1.05);transform-origin:0 8.13px;">G1/2 Anschlussgehäuse, Aluminium</div><div class="t" style="left:361.5px;top:147.27px;font-size:9.6px;font-weight:700;color:#111;transform:scaleY(1.05);transform-origin:0 8.13px;">Dichtungen</div><div class="t" style="left:361.5px;top:156.97px;font-size:9.6px;transform:scaleY(1.05);transform-origin:0 8.13px;">N</div><div class="t" style="left:382.8px;top:156.97px;font-size:9.6px;transform:scaleY(1.05);transform-origin:0 8.13px;">=</div><div class="t" style="left:391px;top:156.97px;font-size:9.6px;transform:scaleY(1.05);transform-origin:0 8.13px;">NBR</div><div class="t" style="left:361.5px;top:166.67px;font-size:9.6px;transform:scaleY(1.05);transform-origin:0 8.13px;">F</div><div class="t" style="left:382.8px;top:166.67px;font-size:9.6px;transform:scaleY(1.05);transform-origin:0 8.13px;">=</div><div class="t" style="left:391px;top:166.67px;font-size:9.6px;transform:scaleY(1.05);transform-origin:0 8.13px;">FKM</div><div class="t" style="left:361.5px;top:178.77px;font-size:9.6px;font-weight:700;color:#111;transform:scaleY(1.05);transform-origin:0 8.13px;">Nennspannung für Betätigungsmagnet</div><div class="t" style="left:361.5px;top:188.47px;font-size:9.6px;transform:scaleY(1.05);transform-origin:0 8.13px;"><u>Gleichspannung</u></div><div class="t" style="left:361.5px;top:198.17px;font-size:9.6px;transform:scaleY(1.05);transform-origin:0 8.13px;">12</div><div class="t" style="left:382.8px;top:198.17px;font-size:9.6px;transform:scaleY(1.05);transform-origin:0 8.13px;">=</div><div class="t" style="left:391px;top:198.17px;font-size:9.6px;transform:scaleY(1.05);transform-origin:0 8.13px;">12 VDC</div><div class="t" style="left:361.5px;top:207.87px;font-size:9.6px;transform:scaleY(1.05);transform-origin:0 8.13px;">24</div><div class="t" style="left:382.8px;top:207.87px;font-size:9.6px;transform:scaleY(1.05);transform-origin:0 8.13px;">=</div><div class="t" style="left:391px;top:207.87px;font-size:9.6px;transform:scaleY(1.05);transform-origin:0 8.13px;">24 VDC</div><div class="t" style="left:361.5px;top:217.57px;font-size:9.6px;transform:scaleY(1.05);transform-origin:0 8.13px;"><u>Wechselspannung</u> (Gleichrichter in Spule integriert)</div><div class="t" style="left:361.5px;top:227.27px;font-size:9.6px;transform:scaleY(1.05);transform-origin:0 8.13px;">115</div><div class="t" style="left:382.8px;top:227.27px;font-size:9.6px;transform:scaleY(1.05);transform-origin:0 8.13px;">=</div><div class="t" style="left:391px;top:227.27px;font-size:9.6px;transform:scaleY(1.05);transform-origin:0 8.13px;">115 V AC</div><div class="t" style="left:361.5px;top:236.97px;font-size:9.6px;transform:scaleY(1.05);transform-origin:0 8.13px;">230</div><div class="t" style="left:382.8px;top:236.97px;font-size:9.6px;transform:scaleY(1.05);transform-origin:0 8.13px;">=</div><div class="t" style="left:391px;top:236.97px;font-size:9.6px;transform:scaleY(1.05);transform-origin:0 8.13px;">230 V AC</div><div class="t" style="left:361.5px;top:246.67px;font-size:9.6px;transform:scaleY(1.05);transform-origin:0 8.13px;">andere Spannungen auf Anfrage</div><div class="t" style="left:361.5px;top:258.77px;font-size:9.6px;font-weight:700;color:#111;transform:scaleY(1.05);transform-origin:0 8.13px;">Magnetspulenausführung (Typ 50-1836)</div><div class="t" style="left:361.5px;top:268.47px;font-size:9.6px;transform:scaleY(1.05);transform-origin:0 8.13px;">DC:</div><div class="t" style="left:383px;top:268.47px;font-size:9.6px;transform:scaleY(1.05);transform-origin:0 8.13px;">DG</div><div class="t" style="left:405.3px;top:268.47px;font-size:9.6px;transform:scaleY(1.05);transform-origin:0 8.13px;">=</div><div class="t" style="left:413.3px;top:268.47px;font-size:9.6px;transform:scaleY(1.05);transform-origin:0 8.13px;">DIN Gerätestecker nach EN 175301-803</div><div class="t" style="left:383px;top:278.17px;font-size:9.6px;transform:scaleY(1.05);transform-origin:0 8.13px;">DK</div><div class="t" style="left:405.3px;top:278.17px;font-size:9.6px;transform:scaleY(1.05);transform-origin:0 8.13px;">=</div><div class="t" style="left:413.3px;top:278.17px;font-size:9.6px;transform:scaleY(1.05);transform-origin:0 8.13px;">KOSTAL-Schraubanschluss M27x1</div><div class="t" style="left:383px;top:287.87px;font-size:9.6px;transform:scaleY(1.05);transform-origin:0 8.13px;">DL</div><div class="t" style="left:405.3px;top:287.87px;font-size:9.6px;transform:scaleY(1.05);transform-origin:0 8.13px;">=</div><div class="t" style="left:413.3px;top:287.87px;font-size:9.6px;transform:scaleY(1.05);transform-origin:0 8.13px;">2 freie Litzen, 457 mm lang, 0,75 mm²</div><div class="t" style="left:383px;top:297.57px;font-size:9.6px;transform:scaleY(1.05);transform-origin:0 8.13px;">DN</div><div class="t" style="left:405.3px;top:297.57px;font-size:9.6px;transform:scaleY(1.05);transform-origin:0 8.13px;">=</div><div class="t" style="left:413.3px;top:297.57px;font-size:9.6px;transform:scaleY(1.05);transform-origin:0 8.13px;">Deutsch Stecker, 2-polig, axial</div><div class="t" style="left:383px;top:307.27px;font-size:9.6px;transform:scaleY(1.05);transform-origin:0 8.13px;">DT</div><div class="t" style="left:405.3px;top:307.27px;font-size:9.6px;transform:scaleY(1.05);transform-origin:0 8.13px;">=</div><div class="t" style="left:413.3px;top:307.27px;font-size:9.6px;transform:scaleY(1.05);transform-origin:0 8.13px;">AMP Junior Timer, 2-polig, radial</div><div class="t" style="left:361.5px;top:316.97px;font-size:9.6px;transform:scaleY(1.05);transform-origin:0 8.13px;">AC:</div><div class="t" style="left:383px;top:316.97px;font-size:9.6px;transform:scaleY(1.05);transform-origin:0 8.13px;">AG</div><div class="t" style="left:405.3px;top:316.97px;font-size:9.6px;transform:scaleY(1.05);transform-origin:0 8.13px;">=</div><div class="t" style="left:413.3px;top:316.97px;font-size:9.6px;transform:scaleY(1.05);transform-origin:0 8.13px;">DIN Gerätestecker nach EN 175301-803</div><div class="t" style="left:361.5px;top:328.87px;font-size:9.6px;transform:scaleY(1.05);transform-origin:0 8.13px;">andere Anschlussarten auf Anfrage</div><div class="t" style="left:354px;top:358.47px;font-size:12.2px;font-weight:700;color:#111;transform:scaleY(1.05);transform-origin:0 10.33px;">Standardausführungen</div><div class="t" style="left:354px;top:374.78px;font-size:9px;font-weight:700;color:#111;transform:scaleY(1.05);transform-origin:0 7.62px;">Bezeichnung</div><div class="t" style="left:639px;top:374.78px;font-size:9px;font-weight:700;color:#111;transform:scaleY(1.05);transform-origin:0 7.62px;">Mat.-Nr.</div><div class="t" style="left:354px;top:387.38px;font-size:9px;transform:scaleY(1.05);transform-origin:0 7.62px;">WK10Y-01-C-N-12DG</div><div class="t" style="left:639px;top:387.38px;font-size:9px;transform:scaleY(1.05);transform-origin:0 7.62px;">3095462</div><div class="t" style="left:354px;top:399.18px;font-size:9px;transform:scaleY(1.05);transform-origin:0 7.62px;">WK10Y-01-C-N-24DG</div><div class="t" style="left:639px;top:399.18px;font-size:9px;transform:scaleY(1.05);transform-origin:0 7.62px;">3094514</div><div class="t" style="left:354px;top:410.88px;font-size:9px;transform:scaleY(1.05);transform-origin:0 7.62px;">WK10Y-01-C-N-230AG</div><div class="t" style="left:639px;top:410.88px;font-size:9px;transform:scaleY(1.05);transform-origin:0 7.62px;">3094515</div><div class="t" style="left:354px;top:422.88px;font-size:9px;transform:scaleY(1.05);transform-origin:0 7.62px;">weitere Modelle auf Anfrage</div><div class="t" style="left:354px;top:434.87px;font-size:12.2px;font-weight:700;color:#111;transform:scaleY(1.05);transform-origin:0 10.33px;">*Rohranschlussgehäuse</div><div class="t" style="left:354px;top:451.68px;font-size:9px;font-weight:700;color:#111;transform:scaleY(1.05);transform-origin:0 7.62px;">Bezeichnung</div><div class="t" style="left:426.6px;top:451.68px;font-size:9px;font-weight:700;color:#111;transform:scaleY(1.05);transform-origin:0 7.62px;">Mat.-Nr.</div><div class="t" style="left:484.5px;top:451.68px;font-size:9px;font-weight:700;color:#111;transform:scaleY(1.05);transform-origin:0 7.62px;">Werkstoff</div><div class="t" style="left:585px;top:451.68px;font-size:9px;font-weight:700;color:#111;transform:scaleY(1.05);transform-origin:0 7.62px;">Anschlüsse</div><div class="t" style="left:656.3px;top:451.68px;font-size:9px;font-weight:700;color:#111;transform:scaleY(1.05);transform-origin:0 7.62px;">Druck</div><div class="t" style="left:354px;top:463.48px;font-size:9px;transform:scaleY(1.05);transform-origin:0 7.62px;">FH104-SB4</div><div class="t" style="left:426.6px;top:463.48px;font-size:9px;transform:scaleY(1.05);transform-origin:0 7.62px;">3037784</div><div class="t" style="left:484.5px;top:463.48px;font-size:9px;transform:scaleY(1.05);transform-origin:0 7.62px;">Stahl, verzinkt</div><div class="t" style="left:585px;top:463.48px;font-size:9px;transform:scaleY(1.05);transform-origin:0 7.62px;">G1/2</div><div class="t" style="left:656.3px;top:463.48px;font-size:9px;transform:scaleY(1.05);transform-origin:0 7.62px;">420 bar</div><div class="t" style="left:354px;top:475.08px;font-size:9px;transform:scaleY(1.05);transform-origin:0 7.62px;">FH104-AB4</div><div class="t" style="left:426.6px;top:475.08px;font-size:9px;transform:scaleY(1.05);transform-origin:0 7.62px;">3038097</div><div class="t" style="left:484.5px;top:475.08px;font-size:9px;transform:scaleY(1.05);transform-origin:0 7.62px;">Aluminium, eloxiert</div><div class="t" style="left:585px;top:475.08px;font-size:9px;transform:scaleY(1.05);transform-origin:0 7.62px;">G1/2</div><div class="t" style="left:656.3px;top:475.08px;font-size:9px;transform:scaleY(1.05);transform-origin:0 7.62px;">245 bar</div><div class="t" style="left:354px;top:489.18px;font-size:9px;transform:scaleY(1.05);transform-origin:0 7.62px;">weitere Anschlussgehäuse auf Anfrage</div><div class="t" style="left:354px;top:501.97px;font-size:12.2px;font-weight:700;color:#111;transform:scaleY(1.05);transform-origin:0 10.33px;">Dichtsätze</div><div class="t" style="left:354px;top:518.58px;font-size:9px;font-weight:700;color:#111;transform:scaleY(1.05);transform-origin:0 7.62px;">Bezeichnung</div><div class="t" style="left:484.5px;top:518.58px;font-size:9px;font-weight:700;color:#111;transform:scaleY(1.05);transform-origin:0 7.62px;">Werkstoff</div><div class="t" style="left:639px;top:518.58px;font-size:9px;font-weight:700;color:#111;transform:scaleY(1.05);transform-origin:0 7.62px;">Mat.-Nr.</div><div class="t" style="left:354px;top:530.38px;font-size:9px;transform:scaleY(1.05);transform-origin:0 7.62px;">FS104-N SEAL KIT</div><div class="t" style="left:484.5px;top:530.38px;font-size:9px;transform:scaleY(1.05);transform-origin:0 7.62px;">NBR</div><div class="t" style="left:639px;top:530.38px;font-size:9px;transform:scaleY(1.05);transform-origin:0 7.62px;">3051912</div><div class="t" style="left:354px;top:541.88px;font-size:9px;transform:scaleY(1.05);transform-origin:0 7.62px;">FS104-V SEAL KIT</div><div class="t" style="left:484.5px;top:541.88px;font-size:9px;transform:scaleY(1.05);transform-origin:0 7.62px;">FPM</div><div class="t" style="left:639px;top:541.88px;font-size:9px;transform:scaleY(1.05);transform-origin:0 7.62px;">3071275</div><div class="t" style="left:8px;top:15.33px;font-size:15.2px;font-weight:700;color:#111;transform:scaleY(1.02);transform-origin:0 12.87px;">ABMESSUNGEN</div><div class="t" style="left:8px;top:575.33px;font-size:15.2px;font-weight:700;color:#111;transform:scaleY(1.02);transform-origin:0 12.87px;">EINBAURAUM</div><div class="t" style="left:8px;top:596.91px;font-size:11.8px;color:#222;transform:scaleY(1.05);transform-origin:0 9.99px;">FC10-4</div><div class="t" style="left:361px;top:577.13px;font-size:15.2px;font-weight:700;color:#111;transform:scaleY(1.02);transform-origin:0 12.87px;">KENNLINIE</div><div class="t" style="left:361px;top:595.78px;font-size:10.3px;transform:scaleY(1.05);transform-origin:0 8.72px;">gemessen bei&nbsp; <span style="font-family:Liberation Serif;font-size:11px">ν</span> = 34 mm²/s, T<sub style="font-size:7px;vertical-align:-2px">Öl</sub> = 46 °C</div><div class="t" style="left:589px;top:623.53px;font-size:10px;transform:scaleY(1.05);transform-origin:0 8.46px;">DRUCKVERLUST</div><div class="t" style="left:589px;top:789.37px;font-size:10.2px;transform:scaleY(1.05);transform-origin:0 8.63px;">EINSATZGRENZEN</div><div class="t" style="left:8.4px;top:947.24px;font-size:12px;font-weight:700;color:#111;transform:scaleY(1.05);transform-origin:0 10.16px;">Formbohrwerkzeuge</div><div class="t" style="left:8.4px;top:963.74px;font-size:12px;font-weight:700;color:#111;transform:scaleY(1.05);transform-origin:0 10.16px;">Bezeichnung</div><div class="t" style="left:150px;top:963.74px;font-size:12px;font-weight:700;color:#111;transform:scaleY(1.05);transform-origin:0 10.16px;">Mat.-Nr.</div><div class="t" style="left:8.4px;top:979.34px;font-size:12px;transform:scaleY(1.05);transform-origin:0 10.16px;">Stufensenker FC10-4</div><div class="t" style="left:150px;top:979.34px;font-size:12px;transform:scaleY(1.05);transform-origin:0 10.16px;">176174</div><div class="t" style="left:8.4px;top:995.84px;font-size:12px;transform:scaleY(1.05);transform-origin:0 10.16px;">Reibahle FC10-4</div><div class="t" style="left:150px;top:995.84px;font-size:12px;transform:scaleY(1.05);transform-origin:0 10.16px;">176175</div>
</body></html>
